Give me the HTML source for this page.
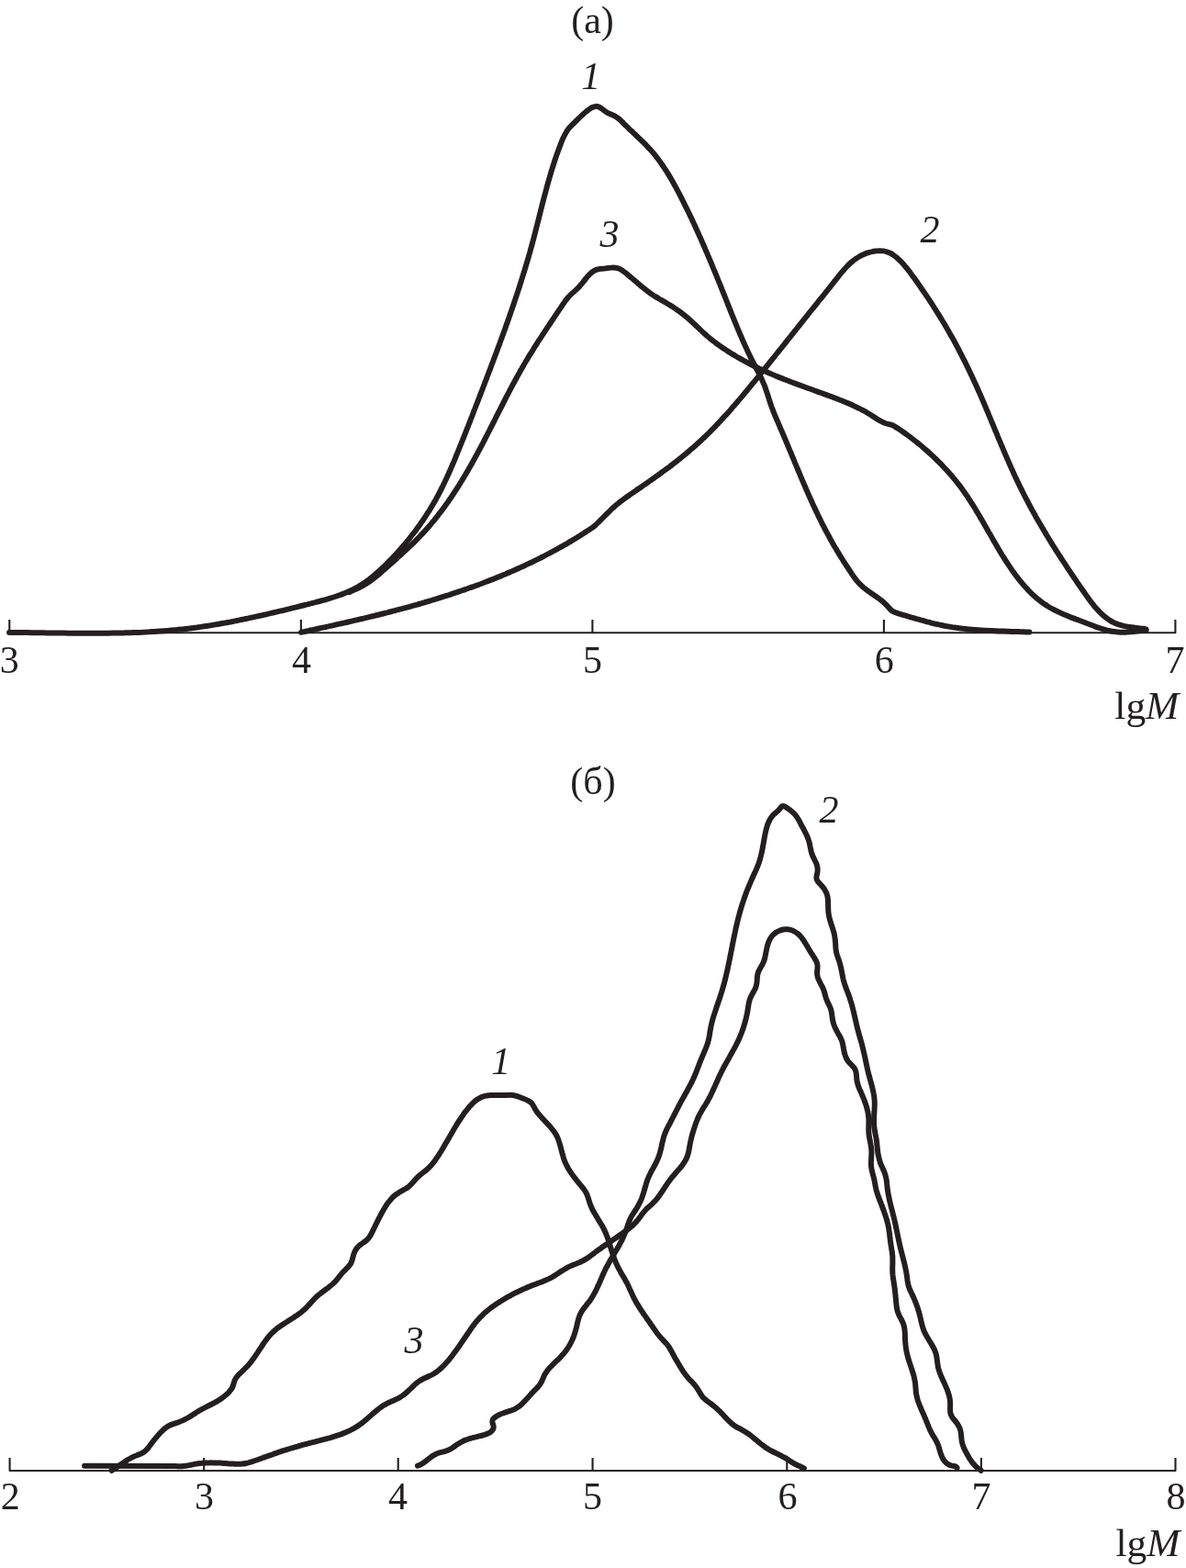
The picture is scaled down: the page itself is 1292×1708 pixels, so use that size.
<!DOCTYPE html>
<html><head><meta charset="utf-8"><title>Figure</title>
<style>
html,body{margin:0;padding:0;background:#fff}
svg{display:block}
text{font-family:"Liberation Serif",serif;font-size:42px;fill:#231f20}
.i{font-style:italic}
</style></head><body>
<svg width="1292" height="1708" viewBox="0 0 1292 1708">
<rect width="1292" height="1708" fill="#fff"/>
<g fill="none" stroke="#231f20" stroke-width="2.1" stroke-linejoin="round">
<path d="M10.3,675.1V689.25H1280.4V675.1M327.9,689.25V675.1M645.4,689.25V675.1M962.9,689.25V675.1"/>
<path d="M10.6,1587.9V1602.0H1280.5V1587.9M222.2,1602.0V1587.9M433.7,1602.0V1587.9M645.55,1602.0V1587.9M857.3,1602.0V1587.9M1068.9,1602.0V1587.9"/>
</g>
<g fill="none" stroke="#231f20" stroke-width="6.0" stroke-linecap="round" stroke-linejoin="round">
<path d="M10.1,688.9C11.4,688.9 12.8,688.9 14.1,688.9C15.5,688.9 16.8,689.0 18.1,689.0C19.5,689.0 20.8,689.0 22.2,689.0C23.5,689.0 24.8,689.0 26.2,689.1C27.5,689.1 28.8,689.1 30.2,689.1C31.5,689.1 32.9,689.1 34.2,689.2C35.5,689.2 36.9,689.2 38.2,689.2C39.6,689.2 40.9,689.3 42.2,689.3C43.6,689.3 44.9,689.3 46.3,689.3C47.6,689.3 48.9,689.4 50.3,689.4C51.6,689.4 52.9,689.4 54.3,689.4C55.6,689.5 57.0,689.5 58.3,689.5C59.6,689.5 61.0,689.5 62.3,689.5C63.7,689.6 65.0,689.6 66.3,689.6C67.7,689.6 69.0,689.6 70.3,689.6C71.7,689.7 73.0,689.7 74.4,689.7C75.7,689.7 77.0,689.7 78.4,689.7C79.7,689.7 81.1,689.7 82.4,689.8C83.7,689.8 85.1,689.8 86.4,689.8C87.7,689.8 89.1,689.8 90.4,689.8C91.8,689.8 93.1,689.8 94.4,689.8C95.8,689.8 97.1,689.8 98.4,689.8C99.8,689.8 101.1,689.8 102.5,689.8C103.8,689.8 105.1,689.8 106.5,689.8C107.8,689.8 109.1,689.8 110.5,689.8C111.8,689.8 113.2,689.8 114.5,689.8C115.8,689.7 117.2,689.7 118.5,689.7C119.8,689.7 121.2,689.7 122.5,689.6C123.8,689.6 125.2,689.6 126.5,689.6C127.9,689.6 129.2,689.5 130.5,689.5C131.9,689.5 133.2,689.4 134.5,689.4C135.9,689.4 137.2,689.3 138.5,689.3C139.9,689.2 141.2,689.2 142.5,689.2C143.9,689.1 145.2,689.1 146.5,689.0C147.9,689.0 149.2,688.9 150.6,688.9C151.9,688.8 153.2,688.7 154.6,688.7C155.9,688.6 157.2,688.5 158.6,688.5C159.9,688.4 161.2,688.3 162.6,688.3C163.9,688.2 165.2,688.1 166.6,688.0C167.9,687.9 169.2,687.9 170.6,687.8C171.9,687.7 173.2,687.6 174.6,687.5C175.9,687.4 177.2,687.3 178.6,687.2C179.9,687.1 181.2,687.0 182.6,686.9C183.9,686.8 185.2,686.7 186.5,686.5C187.9,686.4 189.2,686.3 190.5,686.2C191.9,686.1 193.2,685.9 194.5,685.8C195.9,685.7 197.2,685.5 198.5,685.4C199.9,685.2 201.2,685.1 202.5,684.9C203.8,684.8 205.2,684.6 206.5,684.5C207.8,684.3 209.2,684.1 210.5,684.0C211.8,683.8 213.2,683.6 214.5,683.5C215.8,683.3 217.1,683.1 218.5,682.9C219.8,682.7 221.1,682.5 222.5,682.3C223.8,682.1 225.1,681.9 226.4,681.7C227.8,681.5 229.1,681.3 230.4,681.1C231.7,680.9 233.1,680.7 234.4,680.4C235.7,680.2 237.0,680.0 238.4,679.7C239.7,679.5 241.0,679.3 242.3,679.0C243.7,678.8 245.0,678.6 246.3,678.3C247.6,678.1 248.9,677.8 250.3,677.6C251.6,677.3 252.9,677.1 254.2,676.8C255.5,676.5 256.9,676.3 258.2,676.0C259.5,675.7 260.8,675.5 262.1,675.2C263.4,674.9 264.7,674.7 266.0,674.4C267.4,674.1 268.7,673.9 270.0,673.6C271.3,673.3 272.6,673.0 273.9,672.7C275.2,672.5 276.5,672.2 277.8,671.9C279.1,671.6 280.4,671.3 281.7,671.0C283.0,670.7 284.3,670.4 285.6,670.2C286.9,669.9 288.2,669.6 289.5,669.3C290.8,669.0 292.1,668.7 293.4,668.4C294.7,668.1 295.9,667.8 297.2,667.5C298.5,667.2 299.8,666.9 301.1,666.6C302.4,666.3 303.7,666.0 305.0,665.7C306.3,665.4 307.6,665.1 308.9,664.8C310.2,664.4 311.4,664.1 312.7,663.8C314.0,663.5 315.3,663.2 316.6,662.9C317.9,662.6 319.2,662.2 320.5,661.9C321.8,661.6 323.1,661.3 324.4,661.0C325.7,660.6 327.0,660.3 328.3,660.0C329.6,659.7 330.9,659.3 332.2,659.0C333.5,658.7 334.8,658.4 336.1,658.0C337.4,657.7 338.7,657.4 340.0,657.0C341.3,656.7 342.6,656.4 343.9,656.0C345.2,655.7 346.5,655.3 347.8,655.0C349.1,654.7 350.5,654.3 351.8,653.9C353.1,653.6 354.4,653.2 355.7,652.8C357.0,652.5 358.3,652.1 359.6,651.7C360.9,651.3 362.2,650.9 363.4,650.5C364.7,650.1 366.0,649.7 367.3,649.2C368.6,648.8 369.8,648.3 371.1,647.9C372.4,647.4 373.6,646.9 374.9,646.4C376.1,645.9 377.3,645.4 378.6,644.9C379.8,644.4 381.0,643.8 382.2,643.3C383.4,642.7 384.6,642.1 385.8,641.5C387.0,640.9 388.2,640.3 389.3,639.6C390.5,638.9 391.6,638.3 392.7,637.6C393.9,636.9 395.0,636.2 396.1,635.4C397.2,634.7 398.3,633.9 399.4,633.1C400.5,632.3 401.5,631.6 402.6,630.7C403.6,629.9 404.7,629.1 405.7,628.2C406.8,627.4 407.8,626.5 408.8,625.7C409.8,624.8 410.8,623.9 411.8,623.0C412.9,622.1 413.8,621.2 414.8,620.3C415.8,619.4 416.8,618.4 417.8,617.5C418.7,616.6 419.7,615.6 420.7,614.7C421.6,613.8 422.6,612.8 423.5,611.8C424.5,610.9 425.4,609.9 426.3,609.0C427.3,608.0 428.2,607.0 429.1,606.0C430.0,605.1 431.0,604.1 431.9,603.1C432.8,602.1 433.7,601.1 434.6,600.1C435.5,599.1 436.3,598.1 437.2,597.1C438.1,596.1 439.0,595.1 439.9,594.1C440.7,593.0 441.6,592.0 442.4,591.0C443.3,590.0 444.1,588.9 445.0,587.9C445.8,586.8 446.7,585.8 447.5,584.7C448.3,583.7 449.1,582.6 450.0,581.6C450.8,580.5 451.6,579.5 452.4,578.4C453.2,577.3 454.0,576.2 454.8,575.2C455.6,574.1 456.3,573.0 457.1,571.9C457.9,570.8 458.6,569.7 459.4,568.6C460.2,567.5 460.9,566.4 461.7,565.3C462.4,564.2 463.1,563.1 463.9,562.0C464.6,560.9 465.3,559.8 466.0,558.6C466.8,557.5 467.5,556.4 468.2,555.2C468.9,554.1 469.6,553.0 470.2,551.8C470.9,550.7 471.6,549.5 472.3,548.4C472.9,547.2 473.6,546.1 474.3,544.9C474.9,543.7 475.6,542.6 476.2,541.4C476.8,540.2 477.5,539.1 478.1,537.9C478.7,536.7 479.3,535.5 479.9,534.3C480.5,533.1 481.1,531.9 481.7,530.8C482.3,529.6 482.9,528.4 483.5,527.2C484.1,526.0 484.7,524.8 485.2,523.5C485.8,522.3 486.4,521.1 486.9,519.9C487.5,518.7 488.0,517.5 488.6,516.3C489.1,515.0 489.7,513.8 490.2,512.6C490.8,511.4 491.3,510.1 491.8,508.9C492.4,507.7 492.9,506.5 493.4,505.2C493.9,504.0 494.5,502.8 495.0,501.5C495.5,500.3 496.0,499.1 496.5,497.8C497.0,496.6 497.5,495.3 498.0,494.1C498.5,492.9 499.0,491.6 499.5,490.4C500.0,489.1 500.5,487.9 501.0,486.6C501.5,485.4 502.0,484.2 502.5,482.9C503.0,481.7 503.5,480.4 504.0,479.2C504.5,477.9 505.0,476.7 505.5,475.5C506.0,474.2 506.5,473.0 507.0,471.7C507.5,470.5 508.0,469.2 508.4,468.0C508.9,466.7 509.4,465.5 509.9,464.3C510.4,463.0 510.9,461.8 511.4,460.5C511.9,459.3 512.3,458.0 512.8,456.8C513.3,455.6 513.8,454.3 514.3,453.1C514.8,451.8 515.3,450.6 515.7,449.3C516.2,448.1 516.7,446.8 517.2,445.6C517.7,444.3 518.2,443.1 518.6,441.9C519.1,440.6 519.6,439.4 520.1,438.1C520.6,436.9 521.1,435.6 521.5,434.4C522.0,433.1 522.5,431.9 523.0,430.6C523.5,429.4 523.9,428.2 524.4,426.9C524.9,425.7 525.4,424.4 525.9,423.2C526.3,421.9 526.8,420.7 527.3,419.4C527.8,418.2 528.2,416.9 528.7,415.7C529.2,414.4 529.7,413.2 530.2,411.9C530.6,410.7 531.1,409.4 531.6,408.2C532.1,406.9 532.5,405.7 533.0,404.4C533.5,403.2 534.0,401.9 534.4,400.7C534.9,399.4 535.4,398.2 535.8,396.9C536.3,395.7 536.8,394.4 537.3,393.2C537.7,391.9 538.2,390.7 538.7,389.4C539.1,388.2 539.6,386.9 540.1,385.7C540.5,384.4 541.0,383.2 541.5,381.9C541.9,380.7 542.4,379.4 542.9,378.2C543.3,376.9 543.8,375.6 544.3,374.4C544.7,373.1 545.2,371.9 545.6,370.6C546.1,369.4 546.6,368.1 547.0,366.9C547.5,365.6 547.9,364.3 548.4,363.1C548.8,361.8 549.3,360.6 549.8,359.3C550.2,358.0 550.7,356.8 551.1,355.5C551.6,354.3 552.0,353.0 552.5,351.7C552.9,350.5 553.3,349.2 553.8,348.0C554.2,346.7 554.7,345.4 555.1,344.2C555.6,342.9 556.0,341.6 556.4,340.4C556.9,339.1 557.3,337.9 557.7,336.6C558.2,335.3 558.6,334.1 559.0,332.8C559.5,331.5 559.9,330.3 560.3,329.0C560.8,327.7 561.2,326.5 561.6,325.2C562.0,323.9 562.5,322.6 562.9,321.4C563.3,320.1 563.7,318.8 564.1,317.6C564.5,316.3 565.0,315.0 565.4,313.8C565.8,312.5 566.2,311.2 566.6,309.9C567.0,308.7 567.4,307.4 567.8,306.1C568.2,304.8 568.6,303.6 569.0,302.3C569.4,301.0 569.8,299.7 570.2,298.4C570.6,297.2 571.0,295.9 571.4,294.6C571.8,293.3 572.2,292.0 572.6,290.8C572.9,289.5 573.3,288.2 573.7,286.9C574.1,285.6 574.5,284.4 574.8,283.1C575.2,281.8 575.6,280.5 576.0,279.2C576.3,277.9 576.7,276.6 577.1,275.4C577.4,274.1 577.8,272.8 578.1,271.5C578.5,270.2 578.9,268.9 579.2,267.6C579.6,266.3 579.9,265.0 580.3,263.7C580.6,262.4 581.0,261.1 581.3,259.9C581.6,258.6 582.0,257.3 582.3,256.0C582.7,254.7 583.0,253.4 583.3,252.1C583.7,250.8 584.0,249.5 584.3,248.2C584.7,246.9 585.0,245.6 585.3,244.3C585.6,243.0 586.0,241.7 586.3,240.4C586.6,239.1 587.0,237.8 587.3,236.5C587.6,235.2 587.9,233.9 588.3,232.6C588.6,231.3 588.9,230.0 589.2,228.7C589.6,227.4 589.9,226.1 590.2,224.8C590.6,223.5 590.9,222.2 591.2,220.9C591.6,219.6 591.9,218.3 592.2,217.0C592.6,215.7 592.9,214.4 593.2,213.1C593.6,211.8 593.9,210.6 594.3,209.3C594.6,208.0 594.9,206.7 595.3,205.4C595.6,204.1 596.0,202.8 596.4,201.5C596.7,200.2 597.1,198.9 597.4,197.6C597.8,196.4 598.2,195.1 598.5,193.8C598.9,192.5 599.3,191.2 599.7,189.9C600.0,188.7 600.4,187.4 600.8,186.1C601.2,184.8 601.6,183.6 602.0,182.3C602.4,181.0 602.8,179.7 603.2,178.5C603.6,177.2 604.0,175.9 604.4,174.7C604.9,173.4 605.3,172.1 605.7,170.9C606.1,169.6 606.6,168.3 607.0,167.1C607.5,165.8 607.9,164.6 608.4,163.3C608.8,162.1 609.3,160.8 609.8,159.6C610.3,158.3 610.7,157.1 611.2,155.8C611.7,154.6 612.2,153.3 612.7,152.1C613.3,150.9 613.8,149.7 614.4,148.5C615.0,147.3 615.6,146.1 616.3,145.0C616.9,143.8 617.6,142.7 618.4,141.6C619.2,140.5 620.0,139.5 620.9,138.5C621.8,137.5 622.8,136.5 623.7,135.6C624.7,134.6 625.7,133.7 626.6,132.7C627.6,131.8 628.5,130.9 629.5,129.9C630.4,129.0 631.3,128.1 632.3,127.2C633.2,126.3 634.2,125.4 635.2,124.5C636.2,123.6 637.2,122.7 638.3,121.8C639.3,120.9 640.4,120.1 641.6,119.3C642.7,118.4 643.9,117.6 645.1,117.0C646.3,116.4 647.6,116.0 648.8,115.9C650.0,115.7 651.3,115.9 652.5,116.4C653.7,116.9 654.8,117.7 655.9,118.6C657.0,119.4 658.1,120.3 659.2,121.1C660.2,121.9 661.4,122.6 662.6,123.2C663.8,123.8 665.1,124.3 666.3,124.8C667.5,125.3 668.7,125.9 669.9,126.5C671.0,127.2 672.1,127.9 673.2,128.7C674.2,129.5 675.2,130.4 676.2,131.3C677.2,132.2 678.1,133.2 679.1,134.2C680.1,135.1 681.0,136.1 682.0,137.0C683.0,138.0 683.9,138.9 684.9,139.9C685.9,140.8 686.9,141.7 687.9,142.7C688.8,143.6 689.8,144.5 690.8,145.4C691.8,146.4 692.7,147.3 693.7,148.2C694.7,149.1 695.7,150.0 696.6,151.0C697.6,151.9 698.6,152.8 699.5,153.8C700.5,154.7 701.4,155.6 702.3,156.6C703.3,157.5 704.2,158.5 705.1,159.4C706.0,160.4 707.0,161.4 707.8,162.3C708.7,163.3 709.6,164.3 710.5,165.3C711.4,166.3 712.2,167.3 713.1,168.3C713.9,169.4 714.7,170.4 715.5,171.5C716.4,172.5 717.2,173.6 717.9,174.6C718.7,175.7 719.5,176.8 720.3,177.9C721.0,179.0 721.8,180.1 722.5,181.2C723.3,182.3 724.0,183.4 724.7,184.5C725.5,185.6 726.2,186.8 726.9,187.9C727.6,189.0 728.3,190.2 729.0,191.3C729.7,192.5 730.3,193.6 731.0,194.8C731.7,196.0 732.4,197.1 733.0,198.3C733.7,199.5 734.3,200.7 735.0,201.8C735.6,203.0 736.3,204.2 736.9,205.4C737.5,206.6 738.2,207.8 738.8,208.9C739.4,210.1 740.0,211.3 740.7,212.5C741.3,213.7 741.9,214.9 742.5,216.1C743.1,217.3 743.7,218.5 744.3,219.7C744.9,220.9 745.5,222.1 746.1,223.3C746.7,224.5 747.3,225.7 747.9,226.9C748.5,228.1 749.1,229.3 749.7,230.5C750.3,231.7 750.8,232.9 751.4,234.1C752.0,235.3 752.6,236.5 753.2,237.7C753.7,239.0 754.3,240.2 754.9,241.4C755.4,242.6 756.0,243.8 756.6,245.0C757.1,246.2 757.7,247.4 758.2,248.7C758.8,249.9 759.3,251.1 759.9,252.3C760.4,253.5 761.0,254.7 761.5,256.0C762.1,257.2 762.6,258.4 763.2,259.6C763.7,260.8 764.3,262.1 764.8,263.3C765.3,264.5 765.9,265.7 766.4,267.0C766.9,268.2 767.5,269.4 768.0,270.6C768.5,271.9 769.0,273.1 769.6,274.3C770.1,275.5 770.6,276.8 771.1,278.0C771.7,279.2 772.2,280.5 772.7,281.7C773.2,282.9 773.7,284.2 774.3,285.4C774.8,286.6 775.3,287.8 775.8,289.1C776.3,290.3 776.8,291.5 777.3,292.8C777.8,294.0 778.4,295.3 778.9,296.5C779.4,297.7 779.9,299.0 780.4,300.2C780.9,301.4 781.4,302.7 781.9,303.9C782.4,305.1 782.9,306.4 783.4,307.6C783.9,308.9 784.4,310.1 784.9,311.3C785.4,312.6 785.9,313.8 786.4,315.1C786.9,316.3 787.4,317.6 787.9,318.8C788.4,320.0 788.9,321.3 789.4,322.5C789.9,323.8 790.4,325.0 790.9,326.3C791.4,327.5 791.9,328.7 792.4,330.0C792.8,331.2 793.3,332.5 793.8,333.7C794.3,335.0 794.8,336.2 795.3,337.5C795.8,338.7 796.3,339.9 796.8,341.2C797.3,342.4 797.8,343.7 798.3,344.9C798.8,346.2 799.3,347.4 799.8,348.6C800.3,349.9 800.8,351.1 801.4,352.4C801.9,353.6 802.4,354.8 802.9,356.1C803.4,357.3 803.9,358.6 804.4,359.8C805.0,361.0 805.5,362.3 806.0,363.5C806.5,364.7 807.1,365.9 807.6,367.2C808.1,368.4 808.7,369.6 809.2,370.9C809.7,372.1 810.3,373.3 810.8,374.5C811.4,375.8 811.9,377.0 812.5,378.2C813.0,379.4 813.6,380.6 814.2,381.8C814.7,383.0 815.3,384.3 815.9,385.5C816.5,386.7 817.1,387.9 817.6,389.1C818.2,390.3 818.8,391.5 819.4,392.7C820.0,393.9 820.6,395.1 821.2,396.2C821.9,397.4 822.5,398.6 823.1,399.8C823.7,401.0 824.3,402.2 825.0,403.4C825.6,404.6 826.2,405.7 826.8,406.9C827.4,408.1 828.0,409.3 828.6,410.5C829.2,411.7 829.7,412.9 830.3,414.1C830.8,415.3 831.4,416.6 831.9,417.8C832.4,419.0 832.9,420.3 833.4,421.5C833.9,422.7 834.3,424.0 834.7,425.3C835.2,426.5 835.6,427.8 836.0,429.1C836.4,430.4 836.8,431.6 837.2,432.9C837.6,434.2 838.0,435.5 838.4,436.8C838.8,438.0 839.2,439.3 839.7,440.6C840.1,441.8 840.5,443.1 841.0,444.3C841.5,445.6 842.0,446.8 842.4,448.1C842.9,449.3 843.4,450.6 843.9,451.8C844.4,453.0 845.0,454.3 845.5,455.5C846.0,456.7 846.5,458.0 847.1,459.2C847.6,460.4 848.1,461.6 848.7,462.9C849.2,464.1 849.7,465.3 850.2,466.5C850.8,467.8 851.3,469.0 851.8,470.2C852.4,471.4 852.9,472.7 853.4,473.9C853.9,475.1 854.5,476.4 855.0,477.6C855.5,478.8 856.0,480.1 856.5,481.3C857.1,482.5 857.6,483.8 858.1,485.0C858.6,486.2 859.1,487.5 859.6,488.7C860.2,490.0 860.7,491.2 861.2,492.4C861.7,493.7 862.2,494.9 862.7,496.1C863.2,497.4 863.8,498.6 864.3,499.8C864.8,501.1 865.3,502.3 865.8,503.6C866.3,504.8 866.8,506.0 867.4,507.3C867.9,508.5 868.4,509.7 868.9,511.0C869.4,512.2 869.9,513.4 870.5,514.7C871.0,515.9 871.5,517.1 872.0,518.4C872.5,519.6 873.1,520.8 873.6,522.1C874.1,523.3 874.6,524.5 875.2,525.8C875.7,527.0 876.2,528.2 876.8,529.5C877.3,530.7 877.8,531.9 878.3,533.2C878.9,534.4 879.4,535.6 880.0,536.8C880.5,538.1 881.0,539.3 881.6,540.5C882.1,541.7 882.7,542.9 883.2,544.2C883.8,545.4 884.3,546.6 884.9,547.8C885.4,549.0 886.0,550.3 886.6,551.5C887.1,552.7 887.7,553.9 888.2,555.1C888.8,556.3 889.4,557.5 890.0,558.7C890.5,559.9 891.1,561.1 891.7,562.3C892.3,563.5 892.9,564.7 893.5,565.9C894.0,567.1 894.6,568.3 895.2,569.5C895.8,570.7 896.4,571.9 897.0,573.1C897.7,574.3 898.3,575.5 898.9,576.7C899.5,577.8 900.1,579.0 900.8,580.2C901.4,581.4 902.0,582.6 902.7,583.7C903.3,584.9 903.9,586.1 904.6,587.3C905.2,588.4 905.9,589.6 906.5,590.7C907.2,591.9 907.9,593.1 908.5,594.2C909.2,595.4 909.9,596.5 910.6,597.7C911.3,598.8 911.9,600.0 912.6,601.1C913.3,602.3 914.0,603.4 914.7,604.6C915.4,605.7 916.2,606.8 916.9,608.0C917.6,609.1 918.3,610.2 919.0,611.4C919.8,612.5 920.5,613.6 921.2,614.8C921.9,615.9 922.7,617.0 923.4,618.1C924.1,619.3 924.9,620.4 925.6,621.5C926.3,622.6 927.1,623.8 927.8,624.9C928.6,626.0 929.3,627.1 930.1,628.2C930.9,629.3 931.7,630.4 932.5,631.4C933.3,632.5 934.2,633.5 935.0,634.5C935.9,635.5 936.8,636.4 937.8,637.3C938.7,638.3 939.7,639.1 940.7,640.0C941.7,640.8 942.8,641.6 943.8,642.4C944.9,643.2 946.0,644.0 947.1,644.8C948.2,645.5 949.3,646.3 950.4,647.0C951.5,647.8 952.6,648.5 953.7,649.3C954.8,650.1 955.9,650.8 957.0,651.6C958.1,652.4 959.1,653.2 960.2,654.1C961.2,654.9 962.3,655.8 963.2,656.7C964.2,657.6 965.2,658.5 966.1,659.5C967.0,660.5 967.9,661.5 968.8,662.5C969.7,663.6 970.6,664.5 971.6,665.3C972.7,666.1 973.9,666.6 975.2,667.1C976.4,667.6 977.7,668.0 979.0,668.4C980.3,668.8 981.6,669.2 982.9,669.6C984.2,670.0 985.5,670.3 986.8,670.7C988.1,671.1 989.4,671.5 990.6,671.8C991.9,672.2 993.2,672.6 994.5,672.9C995.8,673.3 997.1,673.7 998.4,674.1C999.7,674.4 1000.9,674.8 1002.2,675.2C1003.5,675.5 1004.8,675.9 1006.1,676.2C1007.4,676.6 1008.7,677.0 1010.0,677.3C1011.2,677.6 1012.5,678.0 1013.8,678.3C1015.1,678.6 1016.4,679.0 1017.7,679.3C1019.0,679.6 1020.3,679.9 1021.6,680.2C1022.9,680.5 1024.2,680.8 1025.5,681.0C1026.8,681.3 1028.1,681.6 1029.4,681.8C1030.7,682.0 1032.0,682.3 1033.3,682.5C1034.7,682.7 1036.0,682.9 1037.3,683.2C1038.6,683.4 1039.9,683.6 1041.3,683.7C1042.6,683.9 1043.9,684.1 1045.2,684.3C1046.6,684.4 1047.9,684.6 1049.2,684.8C1050.5,684.9 1051.9,685.0 1053.2,685.2C1054.5,685.3 1055.9,685.4 1057.2,685.6C1058.5,685.7 1059.9,685.8 1061.2,685.9C1062.5,686.0 1063.9,686.1 1065.2,686.2C1066.6,686.3 1067.9,686.4 1069.2,686.5C1070.6,686.6 1071.9,686.7 1073.3,686.7C1074.6,686.8 1075.9,686.9 1077.3,687.0C1078.6,687.0 1080.0,687.1 1081.3,687.1C1082.6,687.2 1084.0,687.3 1085.3,687.3C1086.7,687.4 1088.0,687.4 1089.4,687.5C1090.7,687.5 1092.0,687.6 1093.4,687.6C1094.7,687.7 1096.1,687.7 1097.4,687.7C1098.7,687.8 1100.1,687.8 1101.4,687.9C1102.8,687.9 1104.1,687.9 1105.4,688.0C1106.8,688.0 1108.1,688.1 1109.4,688.1C1110.8,688.1 1112.1,688.2 1113.4,688.2C1114.8,688.3 1116.1,688.3 1117.4,688.4C1118.7,688.4 1120.1,688.5 1121.4,688.5"/>
<path d="M380.1,645.2C381.3,644.7 382.6,644.1 383.8,643.6C385.0,643.1 386.2,642.5 387.4,641.9C388.7,641.4 389.9,640.8 391.1,640.2C392.3,639.6 393.5,638.9 394.6,638.3C395.8,637.6 397.0,637.0 398.1,636.3C399.3,635.6 400.4,634.9 401.5,634.1C402.6,633.4 403.7,632.6 404.8,631.8C405.9,631.0 407.0,630.2 408.0,629.4C409.1,628.6 410.1,627.7 411.1,626.9C412.2,626.0 413.2,625.1 414.2,624.3C415.2,623.4 416.2,622.5 417.2,621.6C418.2,620.7 419.2,619.8 420.2,618.9C421.2,618.0 422.3,617.1 423.3,616.3C424.3,615.4 425.3,614.5 426.3,613.6C427.3,612.7 428.3,611.8 429.3,610.9C430.3,610.0 431.3,609.1 432.3,608.2C433.3,607.3 434.3,606.4 435.3,605.5C436.3,604.6 437.3,603.7 438.3,602.8C439.3,601.9 440.3,600.9 441.3,600.0C442.2,599.1 443.2,598.2 444.2,597.3C445.2,596.3 446.1,595.4 447.1,594.5C448.1,593.6 449.0,592.6 450.0,591.7C451.0,590.8 451.9,589.8 452.9,588.9C453.8,587.9 454.8,587.0 455.7,586.0C456.6,585.0 457.6,584.1 458.5,583.1C459.4,582.1 460.3,581.2 461.2,580.2C462.1,579.2 463.0,578.2 463.9,577.2C464.8,576.2 465.7,575.2 466.6,574.2C467.5,573.2 468.3,572.2 469.2,571.2C470.1,570.1 470.9,569.1 471.8,568.1C472.6,567.1 473.5,566.0 474.3,565.0C475.1,563.9 476.0,562.9 476.8,561.9C477.6,560.8 478.4,559.7 479.2,558.7C480.0,557.6 480.9,556.6 481.7,555.5C482.5,554.4 483.2,553.3 484.0,552.3C484.8,551.2 485.6,550.1 486.4,549.0C487.2,547.9 487.9,546.8 488.7,545.7C489.5,544.6 490.2,543.5 491.0,542.4C491.7,541.3 492.5,540.2 493.2,539.1C494.0,538.0 494.7,536.8 495.4,535.7C496.2,534.6 496.9,533.5 497.6,532.3C498.3,531.2 499.1,530.1 499.8,528.9C500.5,527.8 501.2,526.7 501.9,525.5C502.6,524.4 503.3,523.2 504.0,522.1C504.7,520.9 505.4,519.8 506.1,518.6C506.8,517.5 507.4,516.3 508.1,515.2C508.8,514.0 509.5,512.8 510.2,511.7C510.8,510.5 511.5,509.3 512.2,508.2C512.8,507.0 513.5,505.8 514.1,504.7C514.8,503.5 515.5,502.3 516.1,501.1C516.8,500.0 517.4,498.8 518.1,497.6C518.7,496.4 519.3,495.2 520.0,494.1C520.6,492.9 521.3,491.7 521.9,490.5C522.5,489.3 523.2,488.1 523.8,486.9C524.4,485.7 525.1,484.5 525.7,483.4C526.3,482.2 526.9,481.0 527.5,479.8C528.2,478.6 528.8,477.4 529.4,476.2C530.0,475.0 530.6,473.8 531.2,472.6C531.9,471.4 532.5,470.2 533.1,469.0C533.7,467.8 534.3,466.6 534.9,465.4C535.5,464.2 536.1,463.0 536.7,461.8C537.3,460.6 537.9,459.5 538.5,458.3C539.1,457.1 539.7,455.9 540.3,454.7C540.9,453.5 541.5,452.3 542.1,451.1C542.7,449.9 543.3,448.7 544.0,447.5C544.6,446.3 545.2,445.1 545.8,443.9C546.4,442.7 547.0,441.5 547.6,440.3C548.2,439.1 548.8,437.9 549.4,436.8C550.0,435.6 550.6,434.4 551.2,433.2C551.8,432.0 552.5,430.8 553.1,429.6C553.7,428.4 554.3,427.2 554.9,426.1C555.5,424.9 556.2,423.7 556.8,422.5C557.4,421.3 558.0,420.2 558.7,419.0C559.3,417.8 559.9,416.6 560.6,415.4C561.2,414.3 561.8,413.1 562.5,411.9C563.1,410.7 563.8,409.6 564.4,408.4C565.1,407.2 565.7,406.1 566.4,404.9C567.0,403.7 567.7,402.6 568.4,401.4C569.0,400.3 569.7,399.1 570.4,397.9C571.0,396.8 571.7,395.6 572.4,394.5C573.1,393.3 573.8,392.2 574.5,391.0C575.1,389.9 575.8,388.7 576.5,387.6C577.2,386.5 577.9,385.3 578.7,384.2C579.4,383.0 580.1,381.9 580.8,380.8C581.5,379.6 582.2,378.5 582.9,377.3C583.6,376.2 584.4,375.1 585.1,373.9C585.8,372.8 586.5,371.7 587.3,370.6C588.0,369.4 588.7,368.3 589.5,367.2C590.2,366.0 590.9,364.9 591.7,363.8C592.4,362.7 593.2,361.5 593.9,360.4C594.7,359.3 595.4,358.2 596.1,357.0C596.9,355.9 597.6,354.8 598.4,353.7C599.1,352.5 599.9,351.4 600.6,350.3C601.4,349.2 602.1,348.0 602.9,346.9C603.7,345.8 604.4,344.7 605.2,343.5C605.9,342.4 606.7,341.3 607.4,340.2C608.2,339.0 608.9,337.9 609.7,336.8C610.5,335.7 611.2,334.5 612.0,333.4C612.7,332.3 613.5,331.2 614.3,330.1C615.0,329.0 615.8,327.9 616.6,326.8C617.4,325.8 618.2,324.8 619.1,323.8C619.9,322.8 620.8,321.9 621.7,321.0C622.6,320.2 623.5,319.3 624.5,318.5C625.4,317.7 626.3,316.8 627.3,316.0C628.2,315.1 629.2,314.2 630.1,313.3C631.0,312.3 631.9,311.3 632.8,310.2C633.7,309.1 634.6,308.0 635.5,306.9C636.4,305.7 637.3,304.6 638.2,303.5C639.1,302.3 640.1,301.2 641.0,300.2C642.0,299.2 643.0,298.2 644.0,297.3C645.0,296.4 646.1,295.6 647.2,295.0C648.4,294.3 649.6,293.8 650.8,293.5C652.1,293.1 653.4,292.9 654.7,292.7C656.0,292.6 657.4,292.5 658.8,292.4C660.1,292.2 661.5,292.1 662.8,291.9C664.2,291.7 665.5,291.5 666.9,291.5C668.2,291.4 669.5,291.5 670.9,291.7C672.2,291.9 673.4,292.3 674.7,292.8C675.9,293.3 677.0,294.0 678.2,294.8C679.3,295.6 680.4,296.4 681.4,297.2C682.5,298.1 683.6,298.9 684.6,299.8C685.6,300.6 686.6,301.5 687.6,302.4C688.7,303.2 689.7,304.1 690.7,305.0C691.7,305.9 692.7,306.7 693.7,307.6C694.7,308.5 695.7,309.4 696.8,310.2C697.8,311.1 698.8,312.0 699.9,312.8C700.9,313.7 701.9,314.5 703.0,315.3C704.1,316.2 705.1,317.0 706.2,317.8C707.3,318.6 708.4,319.3 709.5,320.1C710.6,320.9 711.7,321.6 712.8,322.3C714.0,323.0 715.1,323.7 716.3,324.4C717.4,325.1 718.6,325.8 719.7,326.5C720.9,327.1 722.1,327.8 723.2,328.5C724.4,329.1 725.6,329.8 726.7,330.5C727.9,331.2 729.0,331.9 730.2,332.6C731.3,333.3 732.5,334.0 733.6,334.7C734.7,335.4 735.8,336.2 736.9,337.0C738.0,337.7 739.1,338.5 740.2,339.3C741.3,340.1 742.3,340.9 743.4,341.7C744.5,342.5 745.5,343.4 746.5,344.2C747.6,345.1 748.6,345.9 749.6,346.8C750.6,347.7 751.6,348.6 752.6,349.5C753.6,350.4 754.6,351.3 755.6,352.2C756.6,353.1 757.5,354.1 758.5,355.0C759.5,355.9 760.5,356.8 761.4,357.8C762.4,358.7 763.4,359.6 764.3,360.5C765.3,361.5 766.3,362.4 767.3,363.3C768.3,364.2 769.3,365.1 770.3,366.0C771.3,366.8 772.4,367.7 773.4,368.6C774.4,369.4 775.5,370.2 776.5,371.1C777.6,371.9 778.7,372.7 779.7,373.5C780.8,374.3 781.9,375.1 783.0,375.9C784.1,376.7 785.2,377.4 786.3,378.2C787.4,379.0 788.5,379.7 789.7,380.4C790.8,381.2 791.9,381.9 793.0,382.6C794.2,383.4 795.3,384.1 796.4,384.8C797.6,385.5 798.7,386.2 799.9,386.9C801.0,387.6 802.2,388.3 803.3,389.0C804.5,389.6 805.6,390.3 806.8,391.0C808.0,391.6 809.1,392.3 810.3,392.9C811.5,393.6 812.7,394.2 813.9,394.8C815.0,395.5 816.2,396.1 817.4,396.7C818.6,397.3 819.8,397.9 821.0,398.5C822.2,399.1 823.4,399.7 824.6,400.3C825.8,400.9 827.0,401.4 828.2,402.0C829.4,402.6 830.7,403.1 831.9,403.7C833.1,404.3 834.3,404.8 835.5,405.3C836.8,405.9 838.0,406.4 839.2,406.9C840.5,407.5 841.7,408.0 842.9,408.5C844.2,409.0 845.4,409.6 846.6,410.1C847.9,410.6 849.1,411.1 850.4,411.6C851.6,412.1 852.9,412.6 854.1,413.1C855.4,413.6 856.6,414.0 857.9,414.5C859.1,415.0 860.4,415.5 861.6,416.0C862.9,416.5 864.1,416.9 865.4,417.4C866.7,417.9 867.9,418.3 869.2,418.8C870.4,419.3 871.7,419.7 873.0,420.2C874.2,420.7 875.5,421.1 876.7,421.6C878.0,422.0 879.3,422.5 880.5,423.0C881.8,423.4 883.1,423.9 884.3,424.3C885.6,424.8 886.8,425.2 888.1,425.7C889.4,426.2 890.6,426.6 891.9,427.1C893.2,427.5 894.4,428.0 895.7,428.4C897.0,428.9 898.2,429.4 899.5,429.8C900.7,430.3 902.0,430.7 903.3,431.2C904.5,431.7 905.8,432.1 907.0,432.6C908.3,433.1 909.5,433.5 910.8,434.0C912.0,434.5 913.3,435.0 914.5,435.5C915.8,435.9 917.0,436.4 918.3,436.9C919.5,437.4 920.8,437.9 922.0,438.5C923.2,439.0 924.4,439.5 925.7,440.0C926.9,440.6 928.1,441.1 929.3,441.7C930.5,442.2 931.7,442.8 932.9,443.4C934.1,443.9 935.3,444.5 936.5,445.1C937.7,445.7 938.9,446.4 940.1,447.0C941.3,447.6 942.4,448.3 943.6,448.9C944.8,449.6 945.9,450.3 947.1,451.0C948.2,451.7 949.3,452.4 950.5,453.1C951.6,453.8 952.7,454.6 953.8,455.3C955.0,456.0 956.1,456.8 957.3,457.5C958.4,458.1 959.6,458.8 960.8,459.4C961.9,460.0 963.2,460.5 964.4,461.0C965.7,461.4 967.0,461.8 968.3,462.1C969.6,462.4 971.0,462.7 972.2,463.2C973.4,463.9 974.6,464.5 975.7,465.2C976.9,465.9 978.1,466.7 979.2,467.4C980.3,468.2 981.5,468.9 982.6,469.7C983.7,470.5 984.8,471.2 985.9,472.0C987.0,472.8 988.1,473.6 989.2,474.4C990.3,475.2 991.4,476.0 992.5,476.9C993.6,477.7 994.6,478.5 995.7,479.4C996.8,480.2 997.8,481.0 998.9,481.9C1000.0,482.8 1001.0,483.6 1002.1,484.5C1003.1,485.3 1004.2,486.2 1005.2,487.1C1006.3,488.0 1007.3,488.9 1008.3,489.8C1009.3,490.7 1010.4,491.6 1011.4,492.5C1012.4,493.4 1013.4,494.3 1014.4,495.2C1015.4,496.2 1016.4,497.1 1017.4,498.0C1018.4,499.0 1019.4,499.9 1020.4,500.9C1021.4,501.8 1022.3,502.8 1023.3,503.8C1024.3,504.7 1025.2,505.7 1026.2,506.7C1027.1,507.7 1028.1,508.7 1029.0,509.7C1029.9,510.7 1030.8,511.7 1031.8,512.7C1032.7,513.7 1033.6,514.7 1034.5,515.7C1035.4,516.7 1036.3,517.8 1037.2,518.8C1038.0,519.8 1038.9,520.9 1039.8,521.9C1040.7,523.0 1041.5,524.1 1042.3,525.1C1043.2,526.2 1044.0,527.3 1044.9,528.3C1045.7,529.4 1046.5,530.5 1047.3,531.6C1048.1,532.7 1048.9,533.8 1049.7,534.9C1050.5,536.0 1051.2,537.1 1052.0,538.2C1052.8,539.3 1053.5,540.4 1054.3,541.6C1055.0,542.7 1055.8,543.8 1056.5,545.0C1057.3,546.1 1058.0,547.2 1058.7,548.4C1059.4,549.5 1060.2,550.7 1060.9,551.8C1061.6,553.0 1062.3,554.1 1063.0,555.3C1063.7,556.4 1064.4,557.6 1065.1,558.8C1065.8,559.9 1066.5,561.1 1067.2,562.3C1067.8,563.5 1068.5,564.6 1069.2,565.8C1069.9,567.0 1070.6,568.2 1071.3,569.3C1071.9,570.5 1072.6,571.7 1073.3,572.9C1074.0,574.1 1074.6,575.2 1075.3,576.4C1076.0,577.6 1076.7,578.8 1077.3,580.0C1078.0,581.1 1078.7,582.3 1079.4,583.5C1080.0,584.7 1080.7,585.9 1081.4,587.1C1082.1,588.2 1082.7,589.4 1083.4,590.6C1084.1,591.8 1084.8,593.0 1085.5,594.1C1086.2,595.3 1086.9,596.5 1087.6,597.7C1088.3,598.9 1089.0,600.0 1089.7,601.2C1090.4,602.4 1091.1,603.5 1091.8,604.7C1092.5,605.9 1093.3,607.0 1094.0,608.2C1094.7,609.3 1095.5,610.5 1096.2,611.6C1096.9,612.8 1097.7,613.9 1098.5,615.1C1099.2,616.2 1100.0,617.4 1100.8,618.5C1101.5,619.6 1102.3,620.8 1103.1,621.9C1103.9,623.0 1104.7,624.1 1105.5,625.2C1106.3,626.3 1107.2,627.4 1108.0,628.5C1108.8,629.6 1109.7,630.7 1110.5,631.8C1111.4,632.9 1112.2,633.9 1113.1,635.0C1114.0,636.0 1114.9,637.1 1115.8,638.1C1116.7,639.1 1117.6,640.1 1118.5,641.1C1119.4,642.1 1120.4,643.1 1121.3,644.1C1122.3,645.0 1123.2,646.0 1124.2,646.9C1125.2,647.8 1126.2,648.8 1127.2,649.7C1128.2,650.6 1129.2,651.4 1130.2,652.3C1131.2,653.1 1132.3,654.0 1133.4,654.8C1134.4,655.6 1135.5,656.4 1136.6,657.2C1137.7,657.9 1138.8,658.7 1139.9,659.4C1141.0,660.1 1142.2,660.8 1143.3,661.5C1144.5,662.2 1145.6,662.8 1146.8,663.5C1148.0,664.1 1149.2,664.7 1150.4,665.3C1151.6,665.9 1152.8,666.5 1154.1,667.1C1155.3,667.6 1156.5,668.2 1157.8,668.7C1159.0,669.3 1160.3,669.8 1161.6,670.3C1162.8,670.9 1164.1,671.4 1165.4,671.9C1166.6,672.4 1167.9,672.9 1169.2,673.4C1170.5,673.9 1171.8,674.4 1173.1,674.8C1174.4,675.3 1175.6,675.8 1176.9,676.3C1178.2,676.8 1179.5,677.3 1180.8,677.8C1182.1,678.3 1183.4,678.8 1184.7,679.3C1186.0,679.8 1187.3,680.3 1188.6,680.8C1189.9,681.3 1191.2,681.8 1192.4,682.2C1193.7,682.7 1195.0,683.2 1196.3,683.6C1197.6,684.0 1198.9,684.5 1200.2,684.9C1201.5,685.3 1202.8,685.7 1204.2,686.0C1205.5,686.4 1206.8,686.7 1208.1,687.0C1209.4,687.3 1210.7,687.5 1212.1,687.8C1213.4,688.0 1214.7,688.2 1216.0,688.3C1217.4,688.5 1218.7,688.6 1220.1,688.7C1221.4,688.7 1222.8,688.7 1224.1,688.7C1225.5,688.7 1226.9,688.6 1228.2,688.5C1229.6,688.5 1231.0,688.3 1232.3,688.2C1233.7,688.1 1235.1,687.9 1236.4,687.8C1237.8,687.6 1239.1,687.5 1240.5,687.3C1241.9,687.2 1243.2,687.0 1244.6,686.9C1245.9,686.8 1247.3,686.7 1248.6,686.6"/>
<path d="M327.9,688.8C329.2,688.5 330.5,688.2 331.9,688.0C333.2,687.7 334.5,687.4 335.8,687.1C337.1,686.8 338.4,686.5 339.8,686.3C341.1,686.0 342.4,685.7 343.7,685.4C345.0,685.1 346.4,684.8 347.7,684.5C349.0,684.3 350.3,684.0 351.6,683.7C353.0,683.4 354.3,683.1 355.6,682.8C356.9,682.5 358.2,682.2 359.6,681.9C360.9,681.7 362.2,681.4 363.5,681.1C364.9,680.8 366.2,680.5 367.5,680.2C368.8,679.9 370.1,679.6 371.5,679.3C372.8,679.0 374.1,678.7 375.4,678.4C376.7,678.1 378.1,677.8 379.4,677.5C380.7,677.2 382.0,676.9 383.3,676.6C384.7,676.3 386.0,676.0 387.3,675.7C388.6,675.4 389.9,675.1 391.3,674.7C392.6,674.4 393.9,674.1 395.2,673.8C396.5,673.5 397.9,673.2 399.2,672.9C400.5,672.6 401.8,672.2 403.1,671.9C404.5,671.6 405.8,671.3 407.1,671.0C408.4,670.6 409.7,670.3 411.1,670.0C412.4,669.7 413.7,669.3 415.0,669.0C416.3,668.7 417.6,668.4 419.0,668.0C420.3,667.7 421.6,667.4 422.9,667.0C424.2,666.7 425.5,666.3 426.8,666.0C428.2,665.7 429.5,665.3 430.8,665.0C432.1,664.6 433.4,664.3 434.7,663.9C436.0,663.6 437.3,663.3 438.7,662.9C440.0,662.5 441.3,662.2 442.6,661.8C443.9,661.5 445.2,661.1 446.5,660.8C447.8,660.4 449.1,660.0 450.4,659.7C451.7,659.3 453.0,658.9 454.3,658.6C455.6,658.2 457.0,657.8 458.3,657.5C459.6,657.1 460.9,656.7 462.2,656.3C463.5,655.9 464.8,655.6 466.1,655.2C467.4,654.8 468.7,654.4 470.0,654.0C471.3,653.6 472.6,653.2 473.9,652.8C475.2,652.5 476.4,652.1 477.7,651.7C479.0,651.3 480.3,650.9 481.6,650.4C482.9,650.0 484.2,649.6 485.5,649.2C486.8,648.8 488.1,648.4 489.4,648.0C490.7,647.6 491.9,647.1 493.2,646.7C494.5,646.3 495.8,645.9 497.1,645.4C498.4,645.0 499.7,644.6 500.9,644.1C502.2,643.7 503.5,643.3 504.8,642.8C506.1,642.4 507.3,641.9 508.6,641.5C509.9,641.1 511.2,640.6 512.4,640.1C513.7,639.7 515.0,639.2 516.3,638.8C517.5,638.3 518.8,637.8 520.1,637.4C521.3,636.9 522.6,636.4 523.9,636.0C525.1,635.5 526.4,635.0 527.7,634.5C528.9,634.1 530.2,633.6 531.4,633.1C532.7,632.6 534.0,632.1 535.2,631.6C536.5,631.1 537.7,630.6 539.0,630.1C540.2,629.6 541.5,629.1 542.7,628.6C544.0,628.1 545.2,627.6 546.5,627.1C547.7,626.5 549.0,626.0 550.2,625.5C551.5,625.0 552.7,624.4 554.0,623.9C555.2,623.4 556.4,622.8 557.7,622.3C558.9,621.8 560.2,621.2 561.4,620.7C562.6,620.1 563.9,619.6 565.1,619.0C566.3,618.5 567.5,617.9 568.8,617.3C570.0,616.8 571.2,616.2 572.5,615.6C573.7,615.1 574.9,614.5 576.1,613.9C577.3,613.3 578.6,612.8 579.8,612.2C581.0,611.6 582.2,611.0 583.4,610.4C584.6,609.8 585.8,609.2 587.0,608.6C588.2,608.0 589.5,607.4 590.7,606.8C591.9,606.2 593.1,605.5 594.3,604.9C595.5,604.3 596.7,603.7 597.9,603.0C599.0,602.4 600.2,601.8 601.4,601.1C602.6,600.5 603.8,599.8 605.0,599.2C606.2,598.6 607.4,597.9 608.6,597.2C609.7,596.6 610.9,595.9 612.1,595.3C613.3,594.6 614.4,593.9 615.6,593.2C616.8,592.6 618.0,591.9 619.1,591.2C620.3,590.5 621.5,589.8 622.6,589.1C623.8,588.4 625.0,587.7 626.1,587.0C627.3,586.3 628.4,585.6 629.6,584.9C630.7,584.2 631.9,583.5 633.0,582.7C634.2,582.0 635.3,581.3 636.5,580.5C637.6,579.8 638.8,579.1 639.9,578.3C641.0,577.6 642.2,576.8 643.3,576.1C644.4,575.3 645.6,574.6 646.7,573.8C647.7,572.9 648.7,572.0 649.6,571.1C650.6,570.1 651.6,569.2 652.5,568.3C653.5,567.3 654.4,566.4 655.4,565.4C656.3,564.5 657.3,563.5 658.2,562.6C659.1,561.6 660.1,560.7 661.0,559.7C662.0,558.8 662.9,557.8 663.9,556.9C664.9,556.0 665.8,555.0 666.8,554.1C667.8,553.2 668.8,552.3 669.8,551.4C670.8,550.6 671.8,549.7 672.9,548.8C673.9,548.0 675.0,547.2 676.0,546.3C677.1,545.5 678.2,544.7 679.3,543.9C680.3,543.1 681.4,542.3 682.5,541.5C683.6,540.8 684.7,540.0 685.8,539.2C686.9,538.4 688.1,537.7 689.2,536.9C690.3,536.1 691.4,535.4 692.5,534.6C693.6,533.9 694.7,533.1 695.8,532.3C696.9,531.6 698.0,530.8 699.1,530.1C700.2,529.3 701.3,528.5 702.4,527.8C703.5,527.0 704.6,526.2 705.7,525.5C706.8,524.7 707.9,523.9 709.0,523.2C710.1,522.4 711.2,521.6 712.3,520.9C713.4,520.1 714.4,519.3 715.5,518.5C716.6,517.8 717.7,517.0 718.8,516.2C719.9,515.4 720.9,514.6 722.0,513.8C723.1,513.1 724.2,512.3 725.2,511.5C726.3,510.7 727.4,509.9 728.5,509.1C729.5,508.3 730.6,507.5 731.7,506.6C732.7,505.8 733.8,505.0 734.8,504.2C735.9,503.4 737.0,502.5 738.0,501.7C739.1,500.9 740.1,500.0 741.2,499.2C742.2,498.3 743.2,497.5 744.3,496.6C745.3,495.8 746.4,494.9 747.4,494.1C748.4,493.2 749.4,492.3 750.5,491.5C751.5,490.6 752.5,489.7 753.5,488.8C754.5,488.0 755.6,487.1 756.6,486.2C757.6,485.3 758.6,484.4 759.6,483.5C760.6,482.6 761.6,481.7 762.6,480.8C763.5,479.9 764.5,479.0 765.5,478.0C766.5,477.1 767.5,476.2 768.4,475.3C769.4,474.3 770.4,473.4 771.3,472.5C772.3,471.5 773.2,470.6 774.2,469.6C775.1,468.7 776.1,467.7 777.0,466.8C777.9,465.8 778.9,464.9 779.8,463.9C780.7,462.9 781.7,462.0 782.6,461.0C783.5,460.0 784.4,459.1 785.3,458.1C786.2,457.1 787.1,456.1 788.0,455.1C788.9,454.1 789.8,453.1 790.7,452.2C791.6,451.2 792.5,450.2 793.4,449.2C794.3,448.2 795.2,447.2 796.1,446.2C797.0,445.2 797.8,444.1 798.7,443.1C799.6,442.1 800.5,441.1 801.3,440.1C802.2,439.1 803.1,438.1 803.9,437.0C804.8,436.0 805.7,435.0 806.5,434.0C807.4,433.0 808.3,431.9 809.1,430.9C810.0,429.9 810.8,428.8 811.7,427.8C812.5,426.8 813.4,425.8 814.2,424.7C815.1,423.7 815.9,422.7 816.8,421.6C817.6,420.6 818.5,419.5 819.3,418.5C820.2,417.5 821.0,416.4 821.9,415.4C822.7,414.4 823.6,413.3 824.4,412.3C825.3,411.2 826.1,410.2 827.0,409.2C827.8,408.1 828.7,407.1 829.5,406.0C830.3,405.0 831.2,403.9 832.0,402.9C832.9,401.9 833.7,400.8 834.6,399.8C835.4,398.7 836.2,397.7 837.1,396.6C837.9,395.6 838.8,394.6 839.6,393.5C840.4,392.5 841.3,391.4 842.1,390.4C843.0,389.3 843.8,388.3 844.6,387.2C845.5,386.2 846.3,385.1 847.1,384.1C848.0,383.0 848.8,382.0 849.7,380.9C850.5,379.9 851.3,378.9 852.2,377.8C853.0,376.8 853.8,375.7 854.7,374.7C855.5,373.6 856.3,372.6 857.2,371.5C858.0,370.5 858.9,369.4 859.7,368.4C860.5,367.3 861.4,366.3 862.2,365.2C863.0,364.2 863.9,363.1 864.7,362.1C865.5,361.0 866.4,360.0 867.2,358.9C868.0,357.9 868.9,356.9 869.7,355.8C870.5,354.8 871.4,353.7 872.2,352.7C873.0,351.6 873.9,350.6 874.7,349.5C875.5,348.5 876.4,347.4 877.2,346.4C878.0,345.3 878.9,344.3 879.7,343.3C880.5,342.2 881.4,341.2 882.2,340.1C883.1,339.1 883.9,338.0 884.7,337.0C885.6,336.0 886.4,334.9 887.2,333.9C888.1,332.8 888.9,331.8 889.7,330.8C890.6,329.7 891.4,328.7 892.2,327.6C893.1,326.6 893.9,325.6 894.8,324.5C895.6,323.5 896.4,322.4 897.3,321.4C898.1,320.4 898.9,319.3 899.8,318.3C900.6,317.2 901.4,316.2 902.3,315.1C903.1,314.1 904.0,313.0 904.8,312.0C905.6,310.9 906.5,309.9 907.3,308.8C908.1,307.8 909.0,306.7 909.8,305.6C910.7,304.6 911.5,303.5 912.3,302.4C913.2,301.4 914.0,300.3 914.9,299.2C915.7,298.2 916.6,297.1 917.5,296.1C918.3,295.0 919.2,294.0 920.1,293.0C921.0,292.0 921.9,291.0 922.9,290.0C923.8,289.1 924.7,288.1 925.7,287.2C926.7,286.3 927.7,285.4 928.7,284.6C929.8,283.7 930.8,282.9 931.9,282.1C933.0,281.4 934.1,280.7 935.3,280.0C936.4,279.3 937.6,278.6 938.8,278.0C940.0,277.5 941.2,276.9 942.4,276.4C943.7,275.9 945.0,275.5 946.2,275.1C947.5,274.7 948.8,274.3 950.2,274.1C951.5,273.8 952.9,273.6 954.2,273.4C955.6,273.2 956.9,273.2 958.3,273.2C959.6,273.2 961.0,273.2 962.3,273.4C963.6,273.6 964.9,273.9 966.2,274.3C967.4,274.7 968.6,275.2 969.8,275.8C971.0,276.4 972.1,277.1 973.2,277.8C974.3,278.6 975.4,279.4 976.5,280.3C977.5,281.2 978.5,282.1 979.5,283.0C980.5,283.9 981.4,284.9 982.4,285.9C983.3,286.8 984.2,287.8 985.1,288.9C986.0,289.9 986.8,290.9 987.7,292.0C988.5,293.0 989.4,294.1 990.2,295.1C991.0,296.2 991.8,297.3 992.6,298.4C993.4,299.5 994.2,300.6 995.0,301.7C995.8,302.7 996.6,303.8 997.4,304.9C998.1,306.0 998.9,307.1 999.7,308.2C1000.5,309.3 1001.2,310.4 1002.0,311.5C1002.8,312.6 1003.5,313.7 1004.3,314.9C1005.1,316.0 1005.8,317.1 1006.6,318.2C1007.3,319.3 1008.1,320.4 1008.8,321.5C1009.6,322.6 1010.3,323.7 1011.1,324.8C1011.8,325.9 1012.5,327.1 1013.3,328.2C1014.0,329.3 1014.7,330.4 1015.5,331.5C1016.2,332.7 1016.9,333.8 1017.6,334.9C1018.4,336.0 1019.1,337.1 1019.8,338.3C1020.5,339.4 1021.2,340.5 1021.9,341.7C1022.6,342.8 1023.3,343.9 1024.0,345.1C1024.7,346.2 1025.4,347.3 1026.1,348.5C1026.8,349.6 1027.5,350.8 1028.2,351.9C1028.9,353.1 1029.6,354.2 1030.2,355.4C1030.9,356.5 1031.6,357.7 1032.2,358.8C1032.9,360.0 1033.6,361.1 1034.2,362.3C1034.9,363.4 1035.6,364.6 1036.2,365.8C1036.9,366.9 1037.5,368.1 1038.2,369.3C1038.8,370.4 1039.5,371.6 1040.1,372.8C1040.7,374.0 1041.4,375.1 1042.0,376.3C1042.6,377.5 1043.3,378.7 1043.9,379.9C1044.5,381.1 1045.1,382.2 1045.7,383.4C1046.4,384.6 1047.0,385.8 1047.6,387.0C1048.2,388.2 1048.8,389.4 1049.4,390.6C1050.0,391.8 1050.6,393.0 1051.2,394.2C1051.8,395.4 1052.4,396.6 1053.0,397.8C1053.6,399.0 1054.2,400.2 1054.7,401.4C1055.3,402.6 1055.9,403.8 1056.5,405.1C1057.1,406.3 1057.6,407.5 1058.2,408.7C1058.8,409.9 1059.3,411.1 1059.9,412.3C1060.5,413.6 1061.0,414.8 1061.6,416.0C1062.2,417.2 1062.7,418.4 1063.3,419.7C1063.8,420.9 1064.4,422.1 1064.9,423.3C1065.5,424.6 1066.0,425.8 1066.6,427.0C1067.1,428.3 1067.6,429.5 1068.2,430.7C1068.7,431.9 1069.3,433.2 1069.8,434.4C1070.3,435.6 1070.9,436.9 1071.4,438.1C1071.9,439.3 1072.4,440.6 1073.0,441.8C1073.5,443.1 1074.0,444.3 1074.5,445.5C1075.1,446.8 1075.6,448.0 1076.1,449.2C1076.6,450.5 1077.1,451.7 1077.6,453.0C1078.2,454.2 1078.7,455.4 1079.2,456.7C1079.7,457.9 1080.2,459.2 1080.7,460.4C1081.3,461.6 1081.8,462.9 1082.3,464.1C1082.8,465.4 1083.3,466.6 1083.8,467.8C1084.3,469.1 1084.8,470.3 1085.4,471.5C1085.9,472.8 1086.4,474.0 1086.9,475.3C1087.4,476.5 1087.9,477.7 1088.4,479.0C1089.0,480.2 1089.5,481.5 1090.0,482.7C1090.5,483.9 1091.0,485.2 1091.6,486.4C1092.1,487.6 1092.6,488.9 1093.1,490.1C1093.6,491.3 1094.2,492.6 1094.7,493.8C1095.2,495.0 1095.7,496.3 1096.3,497.5C1096.8,498.7 1097.3,499.9 1097.9,501.2C1098.4,502.4 1098.9,503.6 1099.5,504.8C1100.0,506.1 1100.6,507.3 1101.1,508.5C1101.7,509.7 1102.2,511.0 1102.8,512.2C1103.3,513.4 1103.9,514.6 1104.4,515.8C1105.0,517.0 1105.5,518.3 1106.1,519.5C1106.7,520.7 1107.2,521.9 1107.8,523.1C1108.4,524.3 1109.0,525.5 1109.5,526.7C1110.1,527.9 1110.7,529.1 1111.3,530.3C1111.9,531.5 1112.5,532.7 1113.1,533.9C1113.7,535.1 1114.3,536.3 1114.9,537.5C1115.5,538.7 1116.1,539.9 1116.7,541.1C1117.3,542.3 1117.9,543.5 1118.6,544.6C1119.2,545.8 1119.8,547.0 1120.4,548.2C1121.1,549.4 1121.7,550.6 1122.3,551.7C1123.0,552.9 1123.6,554.1 1124.2,555.3C1124.9,556.4 1125.5,557.6 1126.2,558.8C1126.8,559.9 1127.5,561.1 1128.1,562.3C1128.8,563.4 1129.5,564.6 1130.1,565.8C1130.8,566.9 1131.5,568.1 1132.1,569.2C1132.8,570.4 1133.5,571.6 1134.2,572.7C1134.8,573.9 1135.5,575.0 1136.2,576.2C1136.9,577.3 1137.6,578.5 1138.2,579.6C1138.9,580.8 1139.6,581.9 1140.3,583.1C1141.0,584.2 1141.7,585.4 1142.4,586.5C1143.1,587.7 1143.8,588.8 1144.5,589.9C1145.2,591.1 1145.9,592.2 1146.6,593.4C1147.4,594.5 1148.1,595.6 1148.8,596.8C1149.5,597.9 1150.2,599.0 1150.9,600.2C1151.7,601.3 1152.4,602.4 1153.1,603.6C1153.8,604.7 1154.6,605.8 1155.3,606.9C1156.0,608.1 1156.7,609.2 1157.5,610.3C1158.2,611.4 1158.9,612.6 1159.7,613.7C1160.4,614.8 1161.2,615.9 1161.9,617.1C1162.6,618.2 1163.4,619.3 1164.1,620.4C1164.9,621.5 1165.6,622.6 1166.4,623.8C1167.1,624.9 1167.9,626.0 1168.6,627.1C1169.4,628.2 1170.1,629.3 1170.9,630.4C1171.6,631.5 1172.4,632.6 1173.1,633.8C1173.9,634.9 1174.6,636.0 1175.4,637.1C1176.2,638.2 1176.9,639.3 1177.7,640.4C1178.4,641.5 1179.2,642.6 1180.0,643.7C1180.7,644.8 1181.5,645.9 1182.3,647.0C1183.0,648.1 1183.8,649.2 1184.6,650.3C1185.4,651.4 1186.1,652.5 1186.9,653.5C1187.7,654.6 1188.5,655.7 1189.3,656.7C1190.2,657.8 1191.0,658.8 1191.8,659.9C1192.7,660.9 1193.6,661.9 1194.5,662.9C1195.3,663.9 1196.3,664.9 1197.2,665.9C1198.1,666.8 1199.1,667.8 1200.1,668.7C1201.1,669.6 1202.1,670.5 1203.1,671.4C1204.2,672.2 1205.2,673.1 1206.3,673.9C1207.4,674.7 1208.5,675.4 1209.7,676.1C1210.8,676.8 1212.0,677.5 1213.2,678.1C1214.4,678.7 1215.7,679.2 1216.9,679.7C1218.2,680.1 1219.4,680.5 1220.7,680.9C1222.0,681.3 1223.3,681.6 1224.6,681.9C1225.9,682.2 1227.2,682.4 1228.6,682.7C1229.9,682.9 1231.2,683.1 1232.6,683.2C1233.9,683.4 1235.2,683.6 1236.6,683.7C1237.9,683.9 1239.2,684.0 1240.6,684.2C1241.9,684.3 1243.2,684.5 1244.5,684.7C1245.9,684.9 1247.2,685.1 1248.5,685.4"/>
<path d="M92.1,1596.7L192,1597.1M192.0,1597.1C193.4,1597.3 194.7,1597.3 196.0,1597.3C197.4,1597.3 198.7,1597.2 200.0,1597.0C201.3,1596.9 202.7,1596.7 204.0,1596.5C205.3,1596.2 206.6,1596.0 207.9,1595.7C209.2,1595.5 210.6,1595.2 211.9,1594.9C213.2,1594.7 214.5,1594.5 215.8,1594.3C217.1,1594.1 218.5,1593.9 219.8,1593.8C221.1,1593.7 222.4,1593.6 223.8,1593.5C225.1,1593.4 226.4,1593.4 227.7,1593.4C229.1,1593.3 230.4,1593.3 231.7,1593.4C233.1,1593.4 234.4,1593.4 235.8,1593.5C237.1,1593.5 238.4,1593.6 239.8,1593.6C241.1,1593.7 242.5,1593.8 243.8,1593.9C245.2,1594.0 246.5,1594.1 247.9,1594.2C249.2,1594.3 250.5,1594.4 251.9,1594.4C253.2,1594.5 254.6,1594.6 255.9,1594.7C257.3,1594.7 258.6,1594.8 260.0,1594.8C261.3,1594.7 262.6,1594.7 264.0,1594.6C265.3,1594.5 266.6,1594.3 267.9,1594.0C269.2,1593.7 270.5,1593.4 271.7,1593.0C273.0,1592.7 274.3,1592.2 275.5,1591.8C276.8,1591.4 278.1,1590.9 279.3,1590.5C280.6,1590.1 281.9,1589.6 283.1,1589.2C284.4,1588.7 285.6,1588.3 286.9,1587.8C288.2,1587.4 289.4,1586.9 290.7,1586.5C291.9,1586.0 293.2,1585.6 294.5,1585.1C295.7,1584.7 297.0,1584.2 298.2,1583.8C299.5,1583.3 300.8,1582.9 302.0,1582.4C303.3,1582.0 304.6,1581.6 305.8,1581.2C307.1,1580.7 308.4,1580.3 309.6,1579.9C310.9,1579.5 312.2,1579.1 313.5,1578.7C314.7,1578.3 316.0,1577.9 317.3,1577.5C318.6,1577.2 319.9,1576.8 321.2,1576.4C322.4,1576.0 323.7,1575.7 325.0,1575.3C326.3,1574.9 327.6,1574.6 328.9,1574.2C330.2,1573.8 331.4,1573.5 332.7,1573.1C334.0,1572.8 335.3,1572.5 336.6,1572.1C337.9,1571.8 339.2,1571.4 340.5,1571.1C341.8,1570.8 343.1,1570.5 344.4,1570.1C345.7,1569.8 347.0,1569.5 348.3,1569.2C349.6,1568.8 350.9,1568.5 352.2,1568.2C353.5,1567.8 354.8,1567.5 356.0,1567.1C357.3,1566.8 358.6,1566.4 359.9,1566.1C361.2,1565.7 362.5,1565.3 363.7,1564.9C365.0,1564.5 366.3,1564.1 367.5,1563.7C368.8,1563.3 370.1,1562.8 371.3,1562.4C372.6,1561.9 373.8,1561.4 375.1,1560.9C376.3,1560.4 377.5,1559.9 378.8,1559.3C380.0,1558.8 381.2,1558.2 382.4,1557.6C383.6,1557.0 384.7,1556.3 385.9,1555.7C387.1,1555.0 388.2,1554.3 389.3,1553.6C390.4,1552.9 391.5,1552.1 392.6,1551.3C393.7,1550.6 394.8,1549.7 395.8,1548.9C396.9,1548.1 397.9,1547.2 398.9,1546.3C399.9,1545.5 400.9,1544.6 401.9,1543.7C402.9,1542.8 403.9,1541.9 405.0,1541.0C406.0,1540.1 407.0,1539.2 408.0,1538.4C409.0,1537.5 410.0,1536.6 411.1,1535.8C412.1,1535.0 413.2,1534.2 414.3,1533.4C415.3,1532.6 416.4,1531.9 417.6,1531.1C418.7,1530.4 419.9,1529.8 421.0,1529.1C422.2,1528.5 423.4,1527.9 424.7,1527.4C425.9,1526.8 427.1,1526.3 428.4,1525.7C429.6,1525.2 430.8,1524.6 432.0,1524.0C433.2,1523.5 434.4,1522.8 435.6,1522.2C436.7,1521.5 437.9,1520.8 438.9,1520.0C440.0,1519.2 441.1,1518.4 442.1,1517.5C443.1,1516.6 444.1,1515.7 445.1,1514.8C446.1,1513.9 447.0,1513.0 448.0,1512.0C448.9,1511.0 449.9,1510.1 450.9,1509.2C451.8,1508.2 452.8,1507.3 453.8,1506.5C454.9,1505.7 455.9,1504.9 457.0,1504.2C458.2,1503.4 459.3,1502.8 460.5,1502.2C461.7,1501.6 463.0,1501.1 464.2,1500.5C465.4,1500.0 466.7,1499.4 467.9,1498.8C469.1,1498.3 470.3,1497.7 471.5,1497.0C472.6,1496.3 473.8,1495.6 474.9,1494.9C476.0,1494.1 477.0,1493.3 478.0,1492.5C479.1,1491.6 480.1,1490.7 481.1,1489.8C482.0,1488.9 483.0,1488.0 483.9,1487.0C484.9,1486.0 485.8,1485.1 486.6,1484.0C487.5,1483.0 488.4,1482.0 489.3,1481.0C490.1,1479.9 491.0,1478.9 491.8,1477.8C492.6,1476.7 493.4,1475.7 494.2,1474.6C495.0,1473.5 495.8,1472.4 496.6,1471.4C497.4,1470.3 498.2,1469.2 499.0,1468.1C499.7,1467.0 500.5,1465.9 501.2,1464.8C502.0,1463.7 502.8,1462.6 503.5,1461.5C504.3,1460.4 505.0,1459.3 505.7,1458.2C506.5,1457.1 507.2,1456.0 508.0,1454.9C508.7,1453.8 509.5,1452.7 510.2,1451.6C511.0,1450.5 511.7,1449.4 512.5,1448.3C513.2,1447.2 514.0,1446.1 514.8,1445.0C515.6,1443.9 516.4,1442.9 517.2,1441.8C518.1,1440.8 518.9,1439.7 519.7,1438.7C520.6,1437.7 521.5,1436.7 522.4,1435.7C523.3,1434.8 524.2,1433.8 525.2,1432.9C526.1,1431.9 527.1,1431.0 528.1,1430.1C529.1,1429.3 530.1,1428.4 531.2,1427.5C532.2,1426.7 533.3,1425.8 534.3,1425.0C535.4,1424.2 536.5,1423.4 537.6,1422.6C538.7,1421.8 539.8,1421.1 540.9,1420.3C542.1,1419.6 543.2,1418.8 544.3,1418.1C545.5,1417.4 546.6,1416.7 547.7,1416.0C548.9,1415.3 550.0,1414.6 551.2,1413.9C552.4,1413.3 553.5,1412.6 554.7,1412.0C555.8,1411.3 557.0,1410.7 558.2,1410.0C559.4,1409.4 560.6,1408.8 561.7,1408.2C562.9,1407.6 564.1,1407.0 565.3,1406.5C566.5,1405.9 567.7,1405.3 568.9,1404.8C570.1,1404.2 571.4,1403.7 572.6,1403.2C573.8,1402.6 575.0,1402.1 576.3,1401.6C577.5,1401.1 578.8,1400.6 580.0,1400.1C581.3,1399.7 582.5,1399.2 583.8,1398.7C585.0,1398.2 586.3,1397.8 587.6,1397.3C588.8,1396.8 590.1,1396.4 591.3,1395.9C592.6,1395.4 593.8,1394.9 595.1,1394.3C596.3,1393.8 597.5,1393.2 598.7,1392.6C599.9,1392.0 601.1,1391.4 602.2,1390.7C603.4,1390.0 604.5,1389.3 605.6,1388.6C606.8,1387.9 607.9,1387.1 609.0,1386.4C610.1,1385.7 611.2,1384.9 612.4,1384.2C613.5,1383.5 614.6,1382.8 615.8,1382.1C616.9,1381.4 618.1,1380.8 619.3,1380.1C620.5,1379.5 621.7,1379.0 622.9,1378.5C624.1,1377.9 625.4,1377.4 626.6,1377.0C627.9,1376.5 629.1,1376.0 630.4,1375.5C631.6,1374.9 632.8,1374.4 634.0,1373.8C635.2,1373.2 636.4,1372.6 637.5,1371.9C638.7,1371.2 639.8,1370.5 640.9,1369.7C642.0,1369.0 643.1,1368.2 644.2,1367.4C645.3,1366.6 646.3,1365.8 647.4,1365.0C648.5,1364.2 649.5,1363.3 650.6,1362.5C651.7,1361.7 652.8,1361.0 653.9,1360.2C655.0,1359.4 656.0,1358.6 657.1,1357.9C658.2,1357.1 659.3,1356.3 660.4,1355.6C661.5,1354.8 662.6,1354.1 663.7,1353.3C664.8,1352.6 665.9,1351.8 667.0,1351.1C668.2,1350.3 669.3,1349.6 670.4,1348.8C671.5,1348.1 672.6,1347.3 673.7,1346.5C674.8,1345.8 675.9,1345.0 677.0,1344.2C678.1,1343.5 679.2,1342.7 680.2,1341.9C681.3,1341.1 682.4,1340.3 683.5,1339.5C684.6,1338.7 685.6,1337.9 686.7,1337.0C687.7,1336.2 688.7,1335.3 689.7,1334.4C690.7,1333.4 691.6,1332.5 692.5,1331.5C693.4,1330.5 694.2,1329.5 695.1,1328.5C695.9,1327.4 696.7,1326.3 697.5,1325.3C698.3,1324.2 699.0,1323.1 699.9,1322.1C700.7,1321.0 701.5,1320.0 702.4,1319.0C703.3,1318.0 704.2,1317.0 705.2,1316.1C706.2,1315.2 707.2,1314.3 708.2,1313.4C709.2,1312.5 710.2,1311.6 711.2,1310.6C712.1,1309.7 713.1,1308.7 714.0,1307.8C714.9,1306.8 715.7,1305.8 716.5,1304.7C717.3,1303.7 718.1,1302.6 718.9,1301.5C719.7,1300.4 720.4,1299.3 721.1,1298.2C721.9,1297.1 722.6,1296.0 723.3,1294.9C724.0,1293.8 724.8,1292.6 725.5,1291.5C726.2,1290.4 727.0,1289.3 727.7,1288.2C728.5,1287.1 729.3,1286.0 730.1,1284.9C730.9,1283.8 731.8,1282.8 732.6,1281.7C733.5,1280.7 734.4,1279.7 735.3,1278.7C736.2,1277.6 737.1,1276.6 738.0,1275.6C738.9,1274.6 739.8,1273.6 740.7,1272.6C741.5,1271.5 742.4,1270.5 743.2,1269.4C744.0,1268.4 744.7,1267.3 745.4,1266.2C746.1,1265.1 746.8,1263.9 747.4,1262.8C747.9,1261.6 748.4,1260.4 748.9,1259.1C749.3,1257.9 749.6,1256.6 750.0,1255.3C750.3,1254.0 750.6,1252.7 750.8,1251.3C751.1,1250.0 751.3,1248.6 751.5,1247.3C751.8,1245.9 752.0,1244.6 752.3,1243.3C752.6,1241.9 752.9,1240.6 753.2,1239.3C753.5,1238.0 753.9,1236.8 754.2,1235.5C754.6,1234.2 755.0,1232.9 755.4,1231.7C755.8,1230.4 756.2,1229.1 756.6,1227.9C757.0,1226.6 757.4,1225.3 757.9,1224.0C758.3,1222.8 758.8,1221.5 759.3,1220.3C759.8,1219.0 760.3,1217.8 760.9,1216.6C761.4,1215.4 762.0,1214.2 762.7,1213.0C763.3,1211.8 764.0,1210.7 764.6,1209.6C765.3,1208.4 766.0,1207.3 766.7,1206.1C767.5,1205.0 768.2,1203.9 768.9,1202.7C769.6,1201.6 770.2,1200.4 770.9,1199.3C771.5,1198.1 772.2,1196.9 772.8,1195.8C773.4,1194.6 774.0,1193.4 774.6,1192.2C775.2,1191.0 775.8,1189.8 776.3,1188.6C776.9,1187.4 777.4,1186.1 778.0,1184.9C778.6,1183.7 779.1,1182.5 779.6,1181.3C780.2,1180.0 780.7,1178.8 781.3,1177.6C781.8,1176.4 782.4,1175.2 782.9,1173.9C783.5,1172.7 784.0,1171.5 784.6,1170.3C785.2,1169.1 785.8,1167.9 786.4,1166.7C787.0,1165.5 787.6,1164.3 788.2,1163.1C788.8,1161.9 789.5,1160.8 790.1,1159.6C790.8,1158.4 791.4,1157.2 792.1,1156.1C792.7,1154.9 793.4,1153.7 794.1,1152.6C794.7,1151.4 795.4,1150.2 796.0,1149.1C796.7,1147.9 797.3,1146.8 798.0,1145.6C798.6,1144.4 799.3,1143.2 799.9,1142.1C800.6,1140.9 801.2,1139.7 801.8,1138.5C802.4,1137.3 803.0,1136.1 803.6,1134.9C804.2,1133.7 804.7,1132.5 805.3,1131.3C805.8,1130.1 806.3,1128.8 806.8,1127.6C807.3,1126.4 807.8,1125.1 808.3,1123.9C808.7,1122.6 809.2,1121.3 809.6,1120.1C810.0,1118.8 810.4,1117.5 810.8,1116.2C811.2,1114.9 811.6,1113.7 811.9,1112.4C812.3,1111.1 812.6,1109.8 812.9,1108.4C813.2,1107.1 813.5,1105.8 813.8,1104.5C814.0,1103.2 814.3,1101.9 814.5,1100.5C814.7,1099.2 814.9,1097.9 815.1,1096.6C815.3,1095.2 815.6,1093.9 815.8,1092.6C816.1,1091.3 816.4,1090.0 816.8,1088.7C817.2,1087.5 817.7,1086.3 818.3,1085.1C818.9,1083.9 819.6,1082.7 820.3,1081.5C820.9,1080.3 821.6,1079.2 822.2,1078.0C822.8,1076.8 823.4,1075.5 823.7,1074.3C824.1,1073.0 824.3,1071.7 824.5,1070.4C824.6,1069.0 824.7,1067.7 824.8,1066.3C824.9,1065.0 825.0,1063.6 825.2,1062.3C825.4,1061.0 825.7,1059.7 826.2,1058.5C826.7,1057.3 827.3,1056.1 828.0,1054.9C828.7,1053.7 829.4,1052.6 830.0,1051.4C830.7,1050.2 831.3,1049.0 831.8,1047.8C832.3,1046.6 832.7,1045.3 833.1,1044.0C833.4,1042.7 833.7,1041.4 833.9,1040.1C834.2,1038.8 834.4,1037.4 834.7,1036.1C834.9,1034.8 835.2,1033.4 835.5,1032.1C835.8,1030.8 836.2,1029.5 836.6,1028.2C837.0,1026.9 837.5,1025.7 838.0,1024.5C838.6,1023.3 839.2,1022.1 839.9,1021.1C840.7,1020.0 841.5,1019.0 842.5,1018.1C843.4,1017.1 844.5,1016.3 845.6,1015.5C846.8,1014.8 848.1,1014.2 849.3,1013.7C850.6,1013.2 852.0,1012.8 853.3,1012.5C854.7,1012.3 856.0,1012.2 857.4,1012.3C858.7,1012.4 860.0,1012.6 861.3,1012.9C862.6,1013.3 863.8,1013.8 865.0,1014.4C866.2,1015.0 867.3,1015.7 868.3,1016.5C869.4,1017.3 870.4,1018.2 871.3,1019.1C872.2,1020.1 873.0,1021.1 873.9,1022.2C874.7,1023.3 875.4,1024.4 876.2,1025.6C876.9,1026.7 877.6,1027.9 878.3,1029.0C879.0,1030.2 879.7,1031.4 880.4,1032.5C881.0,1033.7 881.7,1034.8 882.4,1035.9C883.1,1037.1 883.9,1038.2 884.6,1039.3C885.3,1040.4 886.0,1041.5 886.7,1042.7C887.4,1043.8 888.1,1045.0 888.8,1046.2C889.4,1047.4 889.9,1048.6 890.2,1049.9C890.6,1051.2 890.6,1052.6 890.5,1053.9C890.5,1055.3 890.3,1056.6 890.2,1058.0C890.1,1059.4 890.1,1060.7 890.3,1062.0C890.5,1063.3 890.8,1064.5 891.3,1065.8C891.8,1067.0 892.3,1068.2 892.9,1069.4C893.5,1070.6 894.2,1071.8 894.8,1073.1C895.5,1074.3 896.1,1075.5 896.6,1076.7C897.1,1077.9 897.6,1079.2 898.0,1080.5C898.4,1081.8 898.7,1083.0 899.0,1084.3C899.4,1085.6 899.7,1086.9 900.2,1088.1C900.6,1089.4 901.2,1090.6 901.7,1091.8C902.3,1093.0 902.9,1094.3 903.5,1095.5C904.0,1096.7 904.6,1097.9 905.0,1099.2C905.4,1100.5 905.7,1101.8 905.9,1103.1C906.2,1104.4 906.3,1105.7 906.5,1107.1C906.7,1108.4 906.8,1109.7 907.1,1111.0C907.3,1112.4 907.6,1113.7 908.0,1114.9C908.4,1116.2 908.9,1117.4 909.4,1118.7C910.0,1119.9 910.6,1121.1 911.2,1122.3C911.8,1123.5 912.5,1124.7 913.1,1125.9C913.8,1127.1 914.5,1128.2 915.1,1129.4C915.7,1130.6 916.3,1131.8 916.8,1133.0C917.3,1134.3 917.6,1135.5 918.0,1136.8C918.3,1138.1 918.5,1139.4 918.7,1140.8C919.0,1142.1 919.2,1143.4 919.4,1144.7C919.7,1146.1 920.0,1147.4 920.4,1148.7C920.8,1150.0 921.3,1151.3 921.9,1152.5C922.4,1153.7 923.1,1154.9 923.9,1156.0C924.7,1157.0 925.6,1158.0 926.6,1159.0C927.6,1160.0 928.6,1160.9 929.5,1161.9C930.3,1162.9 931.1,1163.9 931.6,1165.1C932.1,1166.3 932.5,1167.5 932.7,1168.9C932.9,1170.2 933.0,1171.6 933.1,1173.0C933.2,1174.3 933.3,1175.7 933.5,1177.1C933.8,1178.4 934.1,1179.7 934.4,1181.0C934.8,1182.3 935.3,1183.5 935.7,1184.8C936.2,1186.0 936.7,1187.2 937.3,1188.4C937.8,1189.7 938.4,1190.9 938.9,1192.1C939.4,1193.4 939.9,1194.6 940.5,1195.9C941.0,1197.1 941.5,1198.4 941.9,1199.6C942.4,1200.9 942.9,1202.2 943.3,1203.4C943.7,1204.7 944.1,1206.0 944.4,1207.3C944.8,1208.6 945.1,1209.9 945.4,1211.2C945.6,1212.5 945.9,1213.8 946.0,1215.2C946.2,1216.5 946.3,1217.8 946.4,1219.1C946.4,1220.5 946.4,1221.8 946.4,1223.1C946.4,1224.5 946.3,1225.8 946.3,1227.2C946.3,1228.5 946.2,1229.9 946.3,1231.2C946.3,1232.5 946.4,1233.9 946.5,1235.2C946.7,1236.5 946.9,1237.8 947.1,1239.2C947.3,1240.5 947.6,1241.8 947.8,1243.1C948.1,1244.4 948.4,1245.7 948.6,1247.1C948.8,1248.4 949.0,1249.7 949.2,1251.0C949.3,1252.4 949.4,1253.7 949.4,1255.0C949.4,1256.3 949.4,1257.7 949.3,1259.0C949.3,1260.4 949.2,1261.7 949.1,1263.0C949.0,1264.4 948.9,1265.7 948.9,1267.0C948.9,1268.4 949.0,1269.7 949.1,1271.0C949.3,1272.3 949.5,1273.6 949.8,1274.9C950.1,1276.2 950.4,1277.5 950.8,1278.8C951.1,1280.1 951.5,1281.4 951.8,1282.7C952.1,1284.1 952.4,1285.4 952.7,1286.7C952.9,1288.0 953.2,1289.3 953.4,1290.6C953.7,1292.0 953.9,1293.3 954.2,1294.6C954.5,1295.9 954.8,1297.2 955.2,1298.4C955.6,1299.7 956.0,1301.0 956.4,1302.2C956.9,1303.5 957.3,1304.7 957.8,1306.0C958.3,1307.2 958.8,1308.5 959.3,1309.7C959.8,1311.0 960.3,1312.2 960.7,1313.5C961.2,1314.7 961.7,1316.0 962.2,1317.3C962.6,1318.5 963.1,1319.8 963.5,1321.1C964.0,1322.3 964.4,1323.6 964.8,1324.9C965.2,1326.1 965.6,1327.4 966.0,1328.7C966.3,1330.0 966.7,1331.3 967.0,1332.6C967.3,1333.9 967.6,1335.2 967.9,1336.5C968.1,1337.8 968.3,1339.1 968.5,1340.4C968.7,1341.7 968.9,1343.1 969.1,1344.4C969.2,1345.7 969.4,1347.1 969.5,1348.4C969.7,1349.7 969.8,1351.1 970.0,1352.4C970.2,1353.7 970.4,1355.0 970.6,1356.4C970.8,1357.7 971.0,1359.0 971.2,1360.3C971.4,1361.7 971.7,1363.0 971.8,1364.3C972.0,1365.6 972.2,1367.0 972.3,1368.3C972.4,1369.6 972.4,1370.9 972.4,1372.3C972.4,1373.6 972.4,1375.0 972.4,1376.3C972.3,1377.6 972.3,1379.0 972.3,1380.3C972.2,1381.7 972.2,1383.0 972.3,1384.3C972.3,1385.7 972.4,1387.0 972.5,1388.3C972.7,1389.7 972.8,1391.0 973.0,1392.3C973.2,1393.6 973.4,1395.0 973.6,1396.3C973.8,1397.6 974.0,1398.9 974.2,1400.3C974.4,1401.6 974.6,1402.9 974.7,1404.2C974.9,1405.6 975.0,1406.9 975.2,1408.2C975.3,1409.5 975.5,1410.9 975.6,1412.2C975.7,1413.5 975.9,1414.9 976.0,1416.2C976.1,1417.5 976.2,1418.9 976.4,1420.2C976.5,1421.6 976.7,1422.9 976.9,1424.2C977.1,1425.6 977.3,1426.9 977.7,1428.1C978.1,1429.4 978.5,1430.7 979.1,1431.9C979.6,1433.1 980.3,1434.3 980.9,1435.5C981.5,1436.7 982.2,1437.9 982.8,1439.1C983.4,1440.3 983.9,1441.5 984.3,1442.7C984.7,1444.0 985.0,1445.3 985.2,1446.6C985.5,1447.9 985.6,1449.2 985.7,1450.5C985.8,1451.9 985.9,1453.2 985.9,1454.6C986.0,1456.0 986.0,1457.3 986.0,1458.7C986.1,1460.1 986.2,1461.4 986.3,1462.8C986.4,1464.1 986.5,1465.4 986.7,1466.8C986.8,1468.1 987.0,1469.4 987.3,1470.7C987.5,1472.0 987.8,1473.3 988.1,1474.6C988.4,1475.9 988.7,1477.2 989.1,1478.5C989.4,1479.8 989.8,1481.1 990.2,1482.3C990.6,1483.6 991.1,1484.9 991.5,1486.2C991.9,1487.4 992.4,1488.7 992.8,1490.0C993.2,1491.2 993.6,1492.5 994.0,1493.8C994.4,1495.1 994.8,1496.4 995.2,1497.7C995.5,1498.9 995.9,1500.2 996.1,1501.6C996.4,1502.9 996.7,1504.2 996.9,1505.5C997.1,1506.8 997.2,1508.1 997.3,1509.5C997.4,1510.8 997.5,1512.2 997.6,1513.5C997.7,1514.8 997.9,1516.2 998.0,1517.5C998.2,1518.8 998.5,1520.1 998.8,1521.4C999.1,1522.7 999.4,1524.0 999.8,1525.3C1000.2,1526.6 1000.7,1527.8 1001.2,1529.1C1001.6,1530.3 1002.1,1531.6 1002.7,1532.8C1003.2,1534.1 1003.7,1535.3 1004.2,1536.5C1004.8,1537.7 1005.3,1539.0 1005.9,1540.2C1006.4,1541.4 1006.9,1542.6 1007.5,1543.9C1008.0,1545.1 1008.5,1546.3 1009.0,1547.6C1009.5,1548.8 1010.0,1550.1 1010.5,1551.3C1011.0,1552.6 1011.4,1553.8 1012.0,1555.0C1012.5,1556.3 1013.0,1557.5 1013.6,1558.7C1014.2,1559.9 1014.8,1561.1 1015.5,1562.3C1016.1,1563.4 1016.8,1564.5 1017.6,1565.7C1018.3,1566.8 1019.0,1568.0 1019.6,1569.1C1020.3,1570.3 1020.9,1571.5 1021.4,1572.7C1021.9,1573.9 1022.4,1575.2 1022.8,1576.5C1023.2,1577.8 1023.5,1579.1 1023.9,1580.4C1024.3,1581.7 1024.6,1583.0 1025.1,1584.2C1025.5,1585.5 1026.0,1586.8 1026.6,1587.9C1027.2,1589.1 1027.9,1590.3 1028.8,1591.3C1029.6,1592.3 1030.6,1593.3 1031.6,1594.1C1032.7,1594.9 1033.8,1595.6 1035.1,1596.1C1036.3,1596.6 1037.7,1596.9 1039.1,1597.0C1040.5,1597.1 1041.9,1597.3 1042.6,1599.0"/>
<path d="M121.6,1601.8C122.8,1601.1 123.9,1600.4 125.0,1599.7C126.2,1599.0 127.3,1598.2 128.4,1597.5C129.5,1596.7 130.6,1595.9 131.7,1595.1C132.8,1594.4 133.9,1593.6 135.0,1592.8C136.1,1592.1 137.2,1591.3 138.3,1590.6C139.5,1589.9 140.6,1589.2 141.8,1588.6C143.0,1587.9 144.2,1587.3 145.4,1586.8C146.6,1586.2 147.9,1585.7 149.2,1585.2C150.4,1584.7 151.7,1584.3 153.0,1583.7C154.2,1583.2 155.4,1582.6 156.5,1581.9C157.6,1581.2 158.6,1580.3 159.5,1579.3C160.4,1578.4 161.3,1577.3 162.1,1576.3C162.9,1575.2 163.7,1574.0 164.5,1572.9C165.3,1571.8 166.2,1570.8 167.0,1569.7C167.8,1568.7 168.7,1567.6 169.5,1566.6C170.4,1565.6 171.3,1564.5 172.2,1563.5C173.0,1562.5 173.9,1561.5 174.9,1560.6C175.8,1559.6 176.7,1558.6 177.7,1557.7C178.7,1556.7 179.7,1555.8 180.8,1555.1C181.9,1554.3 183.0,1553.6 184.2,1553.0C185.4,1552.4 186.6,1551.9 187.9,1551.4C189.2,1551.0 190.5,1550.5 191.7,1550.1C193.0,1549.7 194.3,1549.2 195.6,1548.7C196.8,1548.2 198.0,1547.7 199.3,1547.2C200.5,1546.6 201.7,1546.0 202.9,1545.4C204.1,1544.8 205.2,1544.1 206.4,1543.4C207.5,1542.7 208.7,1542.0 209.8,1541.3C211.0,1540.5 212.1,1539.8 213.2,1539.1C214.3,1538.3 215.5,1537.6 216.6,1536.9C217.8,1536.2 218.9,1535.6 220.1,1535.0C221.2,1534.3 222.4,1533.7 223.6,1533.1C224.8,1532.5 226.0,1531.9 227.2,1531.3C228.4,1530.7 229.6,1530.1 230.8,1529.5C232.0,1528.8 233.2,1528.2 234.4,1527.5C235.6,1526.9 236.7,1526.2 237.9,1525.5C239.1,1524.8 240.2,1524.0 241.3,1523.2C242.4,1522.5 243.5,1521.7 244.6,1520.8C245.6,1520.0 246.6,1519.1 247.6,1518.2C248.6,1517.3 249.5,1516.3 250.3,1515.3C251.2,1514.3 252.0,1513.3 252.7,1512.2C253.3,1511.0 253.8,1509.8 254.2,1508.5C254.5,1507.2 254.8,1505.8 255.3,1504.6C255.7,1503.3 256.3,1502.1 257.1,1501.0C257.8,1499.9 258.7,1498.9 259.6,1497.9C260.6,1496.9 261.6,1496.0 262.6,1495.0C263.5,1494.1 264.5,1493.1 265.5,1492.2C266.4,1491.2 267.4,1490.3 268.3,1489.3C269.2,1488.4 270.1,1487.4 271.0,1486.4C271.9,1485.4 272.7,1484.4 273.6,1483.3C274.4,1482.3 275.2,1481.2 276.0,1480.1C276.8,1479.1 277.5,1478.0 278.3,1476.8C279.1,1475.7 279.8,1474.6 280.5,1473.5C281.3,1472.3 282.0,1471.2 282.8,1470.1C283.5,1468.9 284.2,1467.8 285.0,1466.7C285.7,1465.5 286.5,1464.4 287.2,1463.3C288.0,1462.2 288.8,1461.1 289.6,1460.0C290.4,1458.9 291.2,1457.9 292.0,1456.8C292.9,1455.8 293.7,1454.8 294.6,1453.8C295.5,1452.8 296.4,1451.8 297.4,1450.9C298.4,1450.0 299.4,1449.1 300.4,1448.3C301.4,1447.4 302.5,1446.6 303.6,1445.8C304.6,1445.0 305.8,1444.3 306.9,1443.5C308.0,1442.7 309.1,1442.0 310.3,1441.3C311.4,1440.5 312.6,1439.8 313.7,1439.1C314.9,1438.4 316.0,1437.6 317.2,1436.9C318.3,1436.2 319.5,1435.5 320.6,1434.7C321.7,1434.0 322.8,1433.2 323.9,1432.5C325.0,1431.7 326.1,1430.9 327.2,1430.1C328.2,1429.3 329.3,1428.5 330.3,1427.6C331.3,1426.7 332.3,1425.8 333.2,1424.9C334.2,1424.0 335.1,1423.0 336.0,1422.0C336.9,1421.0 337.8,1420.0 338.7,1419.0C339.6,1418.0 340.5,1417.0 341.4,1416.0C342.3,1415.0 343.3,1414.0 344.2,1413.1C345.2,1412.2 346.2,1411.3 347.2,1410.4C348.3,1409.6 349.4,1408.7 350.4,1407.9C351.5,1407.1 352.6,1406.3 353.7,1405.5C354.8,1404.7 355.9,1403.9 357.0,1403.1C358.0,1402.3 359.1,1401.5 360.1,1400.6C361.2,1399.8 362.2,1398.9 363.1,1398.0C364.1,1397.1 365.0,1396.2 365.9,1395.2C366.8,1394.2 367.6,1393.1 368.5,1392.1C369.3,1391.0 370.1,1390.0 371.0,1388.9C371.8,1387.9 372.7,1386.8 373.6,1385.8C374.5,1384.8 375.5,1383.8 376.5,1382.9C377.4,1381.9 378.4,1381.0 379.3,1380.0C380.2,1379.0 381.1,1377.9 381.8,1376.8C382.5,1375.7 383.0,1374.5 383.4,1373.3C383.8,1372.0 384.2,1370.7 384.5,1369.4C384.8,1368.1 385.2,1366.7 385.6,1365.5C386.1,1364.2 386.7,1362.9 387.3,1361.8C388.0,1360.6 388.8,1359.5 389.7,1358.5C390.6,1357.5 391.6,1356.6 392.7,1355.8C393.8,1355.0 395.0,1354.2 396.1,1353.4C397.2,1352.7 398.3,1351.9 399.3,1351.0C400.3,1350.1 401.2,1349.2 402.0,1348.1C402.8,1347.0 403.5,1345.9 404.1,1344.7C404.7,1343.5 405.3,1342.3 405.9,1341.1C406.5,1339.9 407.1,1338.7 407.7,1337.5C408.3,1336.3 408.8,1335.1 409.4,1333.9C410.0,1332.7 410.6,1331.5 411.2,1330.3C411.8,1329.1 412.4,1327.9 413.0,1326.7C413.7,1325.5 414.3,1324.4 414.9,1323.2C415.5,1322.0 416.2,1320.8 416.9,1319.6C417.5,1318.4 418.2,1317.3 418.9,1316.1C419.6,1314.9 420.3,1313.7 421.1,1312.6C421.8,1311.5 422.6,1310.4 423.4,1309.3C424.2,1308.2 425.1,1307.2 426.0,1306.2C426.9,1305.2 427.8,1304.2 428.8,1303.3C429.8,1302.5 430.8,1301.6 431.9,1300.9C433.0,1300.1 434.1,1299.4 435.3,1298.6C436.4,1297.9 437.6,1297.3 438.8,1296.6C439.9,1295.9 441.1,1295.2 442.3,1294.6C443.4,1293.9 444.5,1293.1 445.6,1292.3C446.6,1291.4 447.5,1290.5 448.4,1289.5C449.3,1288.5 450.2,1287.5 451.1,1286.5C452.0,1285.5 452.8,1284.4 453.8,1283.4C454.7,1282.5 455.6,1281.5 456.7,1280.7C457.7,1279.8 458.7,1279.0 459.8,1278.1C460.9,1277.3 462.0,1276.5 463.0,1275.7C464.1,1274.9 465.1,1274.0 466.1,1273.1C467.1,1272.2 468.0,1271.3 468.9,1270.3C469.8,1269.3 470.7,1268.3 471.6,1267.2C472.4,1266.2 473.2,1265.1 474.0,1264.0C474.8,1262.9 475.6,1261.8 476.3,1260.6C477.1,1259.5 477.8,1258.4 478.5,1257.2C479.3,1256.1 480.0,1254.9 480.7,1253.8C481.4,1252.6 482.1,1251.5 482.8,1250.3C483.4,1249.2 484.1,1248.0 484.8,1246.8C485.5,1245.7 486.1,1244.5 486.8,1243.4C487.5,1242.2 488.1,1241.1 488.8,1239.9C489.5,1238.7 490.1,1237.6 490.8,1236.4C491.5,1235.3 492.1,1234.1 492.8,1233.0C493.5,1231.8 494.1,1230.7 494.8,1229.5C495.5,1228.4 496.2,1227.2 496.9,1226.1C497.6,1224.9 498.3,1223.8 499.0,1222.7C499.7,1221.5 500.5,1220.4 501.2,1219.3C502.0,1218.2 502.7,1217.0 503.5,1215.9C504.3,1214.8 505.0,1213.7 505.8,1212.6C506.6,1211.5 507.5,1210.4 508.3,1209.4C509.2,1208.3 510.0,1207.2 510.9,1206.1C511.8,1205.1 512.7,1204.1 513.7,1203.1C514.6,1202.1 515.6,1201.2 516.6,1200.3C517.6,1199.4 518.6,1198.6 519.7,1197.8C520.8,1197.1 521.9,1196.4 523.0,1195.8C524.2,1195.2 525.4,1194.7 526.6,1194.3C527.8,1193.9 529.1,1193.7 530.4,1193.5C531.8,1193.2 533.1,1193.1 534.5,1193.0C535.9,1193.0 537.2,1192.9 538.6,1192.9C540.0,1192.9 541.4,1193.0 542.8,1193.0C544.2,1193.0 545.6,1193.0 547.0,1193.0C548.3,1193.0 549.7,1193.0 551.0,1192.9C552.3,1192.8 553.6,1192.7 554.9,1192.7C556.2,1192.7 557.5,1192.8 558.8,1193.0C560.1,1193.1 561.3,1193.5 562.6,1193.9C563.9,1194.3 565.2,1194.8 566.5,1195.3C567.8,1195.8 569.1,1196.4 570.4,1196.8C571.7,1197.3 573.0,1197.8 574.3,1198.4C575.5,1198.9 576.7,1199.6 577.7,1200.4C578.7,1201.2 579.6,1202.1 580.3,1203.3C581.0,1204.4 581.6,1205.6 582.3,1206.8C582.9,1208.0 583.6,1209.2 584.4,1210.3C585.1,1211.4 585.9,1212.5 586.8,1213.5C587.6,1214.6 588.5,1215.6 589.4,1216.6C590.2,1217.6 591.1,1218.5 592.1,1219.5C593.0,1220.5 593.9,1221.5 594.8,1222.4C595.8,1223.4 596.7,1224.4 597.6,1225.4C598.5,1226.3 599.4,1227.4 600.3,1228.4C601.2,1229.4 602.0,1230.5 602.8,1231.6C603.6,1232.6 604.4,1233.8 605.1,1234.9C605.8,1236.0 606.4,1237.2 607.0,1238.4C607.5,1239.6 608.0,1240.9 608.5,1242.1C608.9,1243.4 609.4,1244.7 609.7,1246.0C610.1,1247.2 610.5,1248.6 610.8,1249.9C611.2,1251.2 611.5,1252.5 611.8,1253.8C612.2,1255.1 612.5,1256.4 612.9,1257.7C613.2,1259.0 613.6,1260.3 614.0,1261.6C614.4,1262.9 614.9,1264.2 615.4,1265.4C615.9,1266.6 616.5,1267.8 617.0,1269.0C617.6,1270.2 618.3,1271.4 618.9,1272.6C619.6,1273.7 620.3,1274.9 621.0,1276.0C621.8,1277.1 622.5,1278.2 623.3,1279.3C624.1,1280.4 624.9,1281.5 625.7,1282.6C626.5,1283.6 627.4,1284.7 628.2,1285.8C629.1,1286.8 629.9,1287.9 630.8,1288.9C631.6,1290.0 632.5,1291.0 633.4,1292.1C634.2,1293.1 635.1,1294.2 635.9,1295.2C636.7,1296.3 637.4,1297.4 638.1,1298.5C638.8,1299.7 639.3,1300.8 639.8,1302.1C640.3,1303.3 640.7,1304.6 641.1,1305.9C641.5,1307.2 641.9,1308.5 642.3,1309.8C642.7,1311.1 643.2,1312.4 643.7,1313.6C644.2,1314.8 644.7,1316.1 645.3,1317.3C645.9,1318.5 646.6,1319.6 647.2,1320.8C647.9,1322.0 648.6,1323.1 649.3,1324.3C650.0,1325.5 650.7,1326.6 651.4,1327.8C652.1,1328.9 652.8,1330.0 653.5,1331.2C654.2,1332.4 654.9,1333.5 655.6,1334.7C656.3,1335.8 656.9,1337.0 657.5,1338.2C658.2,1339.4 658.7,1340.6 659.3,1341.8C659.8,1343.0 660.4,1344.3 660.8,1345.5C661.3,1346.8 661.8,1348.0 662.2,1349.3C662.6,1350.6 663.1,1351.8 663.5,1353.1C663.9,1354.4 664.3,1355.7 664.7,1357.0C665.0,1358.3 665.4,1359.6 665.8,1360.8C666.2,1362.1 666.6,1363.4 667.0,1364.7C667.4,1366.0 667.8,1367.3 668.3,1368.5C668.7,1369.8 669.2,1371.0 669.7,1372.3C670.2,1373.5 670.7,1374.8 671.2,1376.0C671.8,1377.2 672.3,1378.4 672.9,1379.6C673.5,1380.8 674.1,1382.0 674.8,1383.2C675.4,1384.4 676.1,1385.6 676.7,1386.7C677.4,1387.9 678.1,1389.0 678.8,1390.2C679.5,1391.4 680.2,1392.5 680.8,1393.7C681.5,1394.9 682.1,1396.0 682.8,1397.2C683.4,1398.4 684.0,1399.6 684.5,1400.8C685.1,1402.1 685.7,1403.3 686.2,1404.5C686.8,1405.7 687.3,1406.9 687.9,1408.2C688.4,1409.4 689.0,1410.6 689.6,1411.8C690.1,1413.0 690.7,1414.2 691.4,1415.4C692.0,1416.6 692.7,1417.7 693.3,1418.9C694.0,1420.1 694.7,1421.2 695.4,1422.4C696.1,1423.5 696.8,1424.6 697.5,1425.8C698.3,1426.9 699.0,1428.0 699.8,1429.1C700.5,1430.2 701.3,1431.4 702.1,1432.5C702.8,1433.6 703.6,1434.7 704.4,1435.8C705.1,1436.9 705.9,1438.0 706.7,1439.1C707.5,1440.2 708.2,1441.3 709.0,1442.4C709.8,1443.5 710.5,1444.6 711.3,1445.7C712.1,1446.8 712.8,1447.9 713.6,1449.0C714.4,1450.1 715.1,1451.2 715.9,1452.3C716.7,1453.3 717.5,1454.4 718.4,1455.4C719.3,1456.5 720.1,1457.5 721.1,1458.5C722.0,1459.4 722.9,1460.4 723.9,1461.4C724.8,1462.4 725.7,1463.3 726.6,1464.4C727.5,1465.4 728.3,1466.5 729.0,1467.6C729.7,1468.7 730.4,1469.9 731.0,1471.1C731.7,1472.2 732.3,1473.4 732.9,1474.6C733.5,1475.8 734.1,1477.0 734.8,1478.2C735.4,1479.4 736.1,1480.5 736.8,1481.7C737.5,1482.8 738.2,1484.0 738.9,1485.1C739.5,1486.3 740.2,1487.5 740.9,1488.6C741.6,1489.8 742.3,1490.9 743.1,1492.0C743.8,1493.2 744.5,1494.3 745.3,1495.4C746.0,1496.5 746.8,1497.6 747.7,1498.7C748.5,1499.7 749.4,1500.7 750.3,1501.7C751.2,1502.7 752.1,1503.6 753.1,1504.6C754.0,1505.6 754.9,1506.6 755.8,1507.6C756.7,1508.6 757.6,1509.6 758.4,1510.7C759.1,1511.8 759.9,1512.9 760.6,1514.1C761.3,1515.2 761.9,1516.4 762.7,1517.6C763.4,1518.7 764.1,1519.8 764.9,1520.9C765.7,1522.0 766.6,1522.9 767.6,1523.8C768.6,1524.7 769.6,1525.6 770.7,1526.4C771.8,1527.2 772.9,1528.0 774.0,1528.8C775.1,1529.6 776.1,1530.4 777.2,1531.2C778.2,1532.1 779.3,1532.9 780.3,1533.8C781.3,1534.6 782.2,1535.5 783.2,1536.5C784.2,1537.4 785.1,1538.4 786.0,1539.4C786.9,1540.3 787.8,1541.3 788.7,1542.3C789.7,1543.3 790.6,1544.3 791.5,1545.3C792.4,1546.3 793.4,1547.2 794.3,1548.1C795.3,1549.1 796.3,1550.0 797.3,1550.8C798.3,1551.7 799.4,1552.5 800.5,1553.2C801.6,1553.9 802.8,1554.6 804.0,1555.3C805.2,1555.9 806.4,1556.5 807.6,1557.2C808.8,1557.8 810.0,1558.5 811.1,1559.2C812.3,1559.8 813.4,1560.6 814.5,1561.4C815.6,1562.1 816.7,1562.9 817.8,1563.7C818.8,1564.6 819.9,1565.4 820.9,1566.3C822.0,1567.1 823.0,1568.0 824.1,1568.8C825.1,1569.7 826.1,1570.6 827.2,1571.4C828.2,1572.3 829.2,1573.1 830.3,1573.9C831.4,1574.8 832.4,1575.6 833.5,1576.3C834.6,1577.1 835.7,1577.8 836.9,1578.5C838.0,1579.2 839.2,1579.9 840.4,1580.5C841.5,1581.1 842.7,1581.7 844.0,1582.3C845.2,1582.9 846.4,1583.5 847.6,1584.1C848.8,1584.6 850.0,1585.2 851.2,1585.8C852.4,1586.5 853.6,1587.1 854.8,1587.8C856.0,1588.4 857.1,1589.1 858.2,1589.9C859.3,1590.6 860.4,1591.4 861.6,1592.1C862.7,1592.8 863.8,1593.5 865.0,1594.2C866.2,1594.8 867.4,1595.4 868.6,1596.0C869.8,1596.6 871.0,1597.1 872.3,1597.7C873.5,1598.3 874.7,1598.8 875.9,1599.4"/>
<path d="M454.9,1596.7C456.2,1596.3 457.4,1595.8 458.6,1595.1C459.8,1594.5 460.9,1593.8 462.0,1593.0C463.1,1592.2 464.2,1591.4 465.2,1590.5C466.3,1589.7 467.4,1588.8 468.4,1588.0C469.5,1587.1 470.6,1586.3 471.7,1585.6C472.8,1584.9 474.0,1584.3 475.2,1583.7C476.4,1583.2 477.6,1582.8 478.9,1582.4C480.2,1582.1 481.5,1581.7 482.8,1581.4C484.1,1581.0 485.4,1580.7 486.7,1580.2C488.0,1579.8 489.2,1579.3 490.4,1578.6C491.5,1578.0 492.7,1577.3 493.8,1576.5C494.9,1575.7 496.0,1574.9 497.1,1574.1C498.2,1573.4 499.4,1572.6 500.5,1571.9C501.6,1571.2 502.8,1570.5 504.0,1570.0C505.2,1569.4 506.4,1568.9 507.7,1568.4C508.9,1567.9 510.1,1567.5 511.4,1567.1C512.7,1566.7 514.0,1566.4 515.3,1566.0C516.6,1565.7 517.9,1565.4 519.2,1565.1C520.5,1564.7 521.8,1564.4 523.1,1564.1C524.4,1563.8 525.8,1563.5 527.1,1563.1C528.4,1562.8 529.7,1562.4 530.9,1561.8C532.1,1561.3 533.3,1560.7 534.5,1559.8C535.6,1559.0 536.6,1557.9 537.2,1556.8C537.8,1555.6 537.8,1554.4 537.5,1553.0C537.2,1551.7 536.6,1550.4 536.4,1549.2C536.2,1547.9 536.5,1546.8 537.2,1545.7C538.0,1544.7 539.1,1543.8 540.3,1543.1C541.5,1542.3 542.7,1541.6 544.0,1541.0C545.2,1540.4 546.5,1539.9 547.8,1539.5C549.1,1539.0 550.4,1538.6 551.7,1538.2C553.0,1537.8 554.3,1537.4 555.6,1536.9C556.8,1536.5 558.1,1536.0 559.3,1535.5C560.5,1535.0 561.6,1534.4 562.7,1533.7C563.9,1533.0 564.9,1532.3 566.0,1531.5C567.0,1530.6 568.0,1529.8 569.0,1528.9C569.9,1527.9 570.9,1527.0 571.8,1526.0C572.7,1525.0 573.7,1524.0 574.6,1523.0C575.5,1522.0 576.4,1520.9 577.3,1519.9C578.2,1518.9 579.1,1517.9 580.1,1516.9C581.0,1515.9 581.9,1514.9 582.9,1514.0C583.8,1513.0 584.8,1512.1 585.7,1511.2C586.6,1510.2 587.4,1509.2 588.2,1508.1C588.9,1507.1 589.6,1505.9 590.2,1504.7C590.7,1503.5 591.2,1502.2 591.8,1501.0C592.3,1499.7 592.8,1498.4 593.4,1497.3C594.1,1496.1 594.8,1495.0 595.6,1493.9C596.4,1492.8 597.2,1491.8 598.1,1490.8C599.0,1489.8 599.9,1488.9 600.9,1487.9C601.8,1486.9 602.8,1486.0 603.7,1485.0C604.7,1484.1 605.7,1483.1 606.6,1482.2C607.6,1481.3 608.5,1480.3 609.5,1479.4C610.4,1478.4 611.3,1477.4 612.2,1476.4C613.1,1475.5 614.0,1474.5 614.9,1473.4C615.7,1472.4 616.5,1471.4 617.3,1470.3C618.1,1469.2 618.8,1468.1 619.5,1467.0C620.2,1465.8 620.9,1464.7 621.5,1463.5C622.1,1462.3 622.7,1461.1 623.2,1459.9C623.8,1458.6 624.3,1457.4 624.8,1456.1C625.2,1454.9 625.7,1453.6 626.1,1452.3C626.5,1451.0 626.9,1449.7 627.3,1448.4C627.6,1447.1 628.0,1445.8 628.3,1444.5C628.6,1443.1 628.9,1441.8 629.2,1440.5C629.5,1439.2 629.8,1437.9 630.2,1436.6C630.6,1435.4 631.0,1434.1 631.5,1432.9C632.0,1431.7 632.5,1430.5 633.2,1429.4C633.9,1428.2 634.6,1427.1 635.4,1426.0C636.2,1425.0 637.0,1423.9 637.9,1422.8C638.7,1421.8 639.6,1420.7 640.4,1419.6C641.3,1418.6 642.1,1417.5 642.9,1416.4C643.6,1415.3 644.4,1414.2 645.1,1413.0C645.8,1411.9 646.5,1410.7 647.1,1409.5C647.8,1408.4 648.4,1407.2 649.0,1406.0C649.6,1404.8 650.2,1403.6 650.7,1402.4C651.3,1401.2 651.8,1400.0 652.4,1398.7C652.9,1397.5 653.5,1396.3 654.0,1395.1C654.5,1393.8 655.1,1392.6 655.6,1391.4C656.1,1390.1 656.7,1388.9 657.2,1387.7C657.8,1386.5 658.3,1385.3 658.9,1384.0C659.5,1382.8 660.1,1381.6 660.7,1380.4C661.3,1379.3 661.9,1378.1 662.6,1376.9C663.2,1375.7 663.9,1374.6 664.5,1373.4C665.2,1372.2 665.9,1371.1 666.6,1369.9C667.3,1368.8 667.9,1367.6 668.6,1366.5C669.3,1365.3 670.0,1364.2 670.7,1363.0C671.4,1361.9 672.1,1360.7 672.7,1359.6C673.4,1358.4 674.1,1357.3 674.7,1356.1C675.4,1354.9 676.0,1353.7 676.6,1352.5C677.2,1351.4 677.8,1350.2 678.4,1348.9C678.9,1347.7 679.5,1346.5 680.0,1345.3C680.5,1344.0 681.0,1342.8 681.5,1341.6C682.0,1340.3 682.4,1339.0 682.9,1337.8C683.3,1336.5 683.7,1335.2 684.1,1333.9C684.6,1332.7 685.0,1331.4 685.5,1330.2C686.0,1328.9 686.5,1327.7 687.1,1326.5C687.7,1325.3 688.4,1324.2 689.1,1323.0C689.8,1321.9 690.6,1320.8 691.3,1319.7C692.0,1318.5 692.8,1317.4 693.5,1316.3C694.2,1315.1 694.9,1314.0 695.5,1312.8C696.2,1311.6 696.8,1310.4 697.4,1309.2C697.9,1308.0 698.5,1306.8 699.0,1305.5C699.4,1304.3 699.9,1303.0 700.3,1301.7C700.8,1300.5 701.2,1299.2 701.5,1297.9C701.9,1296.6 702.3,1295.3 702.6,1294.0C703.0,1292.7 703.4,1291.4 703.7,1290.2C704.1,1288.9 704.5,1287.6 704.9,1286.3C705.4,1285.1 705.9,1283.8 706.4,1282.6C706.9,1281.4 707.5,1280.2 708.1,1279.0C708.7,1277.8 709.3,1276.6 709.9,1275.4C710.6,1274.2 711.2,1273.0 711.9,1271.9C712.5,1270.7 713.1,1269.5 713.8,1268.3C714.4,1267.1 715.0,1265.9 715.6,1264.7C716.1,1263.5 716.7,1262.3 717.2,1261.0C717.7,1259.8 718.1,1258.5 718.5,1257.3C718.9,1256.0 719.2,1254.7 719.5,1253.4C719.9,1252.1 720.2,1250.8 720.5,1249.5C720.8,1248.1 721.0,1246.8 721.3,1245.5C721.6,1244.2 721.9,1242.9 722.3,1241.6C722.6,1240.3 722.9,1239.0 723.3,1237.7C723.7,1236.5 724.2,1235.2 724.7,1234.0C725.2,1232.7 725.7,1231.5 726.3,1230.3C726.8,1229.1 727.5,1227.9 728.1,1226.7C728.7,1225.5 729.3,1224.4 730.0,1223.2C730.6,1222.0 731.2,1220.8 731.8,1219.6C732.5,1218.4 733.1,1217.2 733.7,1216.0C734.3,1214.8 734.9,1213.6 735.5,1212.4C736.1,1211.2 736.7,1210.1 737.3,1208.9C737.9,1207.7 738.5,1206.5 739.1,1205.3C739.7,1204.1 740.3,1202.9 741.0,1201.7C741.6,1200.6 742.3,1199.4 742.9,1198.2C743.6,1197.1 744.2,1195.9 744.9,1194.7C745.5,1193.5 746.2,1192.4 746.8,1191.2C747.5,1190.0 748.1,1188.9 748.8,1187.7C749.4,1186.5 750.1,1185.3 750.7,1184.2C751.3,1183.0 752.0,1181.8 752.6,1180.6C753.2,1179.4 753.8,1178.2 754.4,1177.0C755.0,1175.8 755.5,1174.6 756.1,1173.4C756.6,1172.2 757.1,1170.9 757.6,1169.7C758.2,1168.5 758.7,1167.2 759.1,1166.0C759.6,1164.7 760.1,1163.5 760.6,1162.2C761.1,1161.0 761.5,1159.7 762.0,1158.5C762.5,1157.2 763.0,1156.0 763.5,1154.7C764.0,1153.5 764.5,1152.2 765.0,1151.0C765.6,1149.8 766.1,1148.5 766.6,1147.3C767.2,1146.1 767.7,1144.8 768.2,1143.6C768.7,1142.4 769.2,1141.1 769.7,1139.9C770.1,1138.6 770.6,1137.4 771.0,1136.1C771.4,1134.8 771.7,1133.5 772.0,1132.2C772.3,1130.9 772.5,1129.6 772.8,1128.3C773.0,1127.0 773.2,1125.6 773.4,1124.3C773.6,1123.0 773.9,1121.7 774.1,1120.3C774.3,1119.0 774.6,1117.7 774.9,1116.4C775.2,1115.1 775.5,1113.8 775.8,1112.5C776.2,1111.2 776.5,1109.9 776.9,1108.6C777.3,1107.3 777.7,1106.1 778.1,1104.8C778.5,1103.5 778.9,1102.2 779.4,1101.0C779.8,1099.7 780.2,1098.4 780.6,1097.2C781.1,1095.9 781.5,1094.6 781.9,1093.4C782.4,1092.1 782.8,1090.8 783.2,1089.6C783.7,1088.3 784.1,1087.0 784.5,1085.7C784.9,1084.5 785.3,1083.2 785.7,1081.9C786.1,1080.7 786.5,1079.4 786.9,1078.1C787.3,1076.8 787.7,1075.5 788.0,1074.2C788.4,1073.0 788.7,1071.7 789.1,1070.4C789.4,1069.1 789.7,1067.8 790.1,1066.5C790.4,1065.2 790.7,1063.9 791.0,1062.6C791.3,1061.3 791.6,1060.0 791.9,1058.7C792.2,1057.4 792.5,1056.1 792.8,1054.8C793.1,1053.5 793.3,1052.1 793.6,1050.8C793.9,1049.5 794.2,1048.2 794.4,1046.9C794.7,1045.6 795.0,1044.3 795.2,1043.0C795.5,1041.6 795.8,1040.3 796.0,1039.0C796.3,1037.7 796.5,1036.4 796.8,1035.1C797.0,1033.7 797.3,1032.4 797.6,1031.1C797.8,1029.8 798.1,1028.5 798.3,1027.2C798.6,1025.8 798.9,1024.5 799.1,1023.2C799.4,1021.9 799.7,1020.6 799.9,1019.3C800.2,1018.0 800.5,1016.7 800.8,1015.3C801.0,1014.0 801.3,1012.7 801.6,1011.4C801.9,1010.1 802.2,1008.8 802.5,1007.5C802.8,1006.2 803.1,1004.9 803.4,1003.6C803.7,1002.3 804.0,1001.0 804.4,999.7C804.7,998.4 805.0,997.1 805.4,995.8C805.7,994.5 806.1,993.3 806.5,992.0C806.8,990.7 807.2,989.4 807.6,988.1C808.0,986.8 808.4,985.6 808.8,984.3C809.2,983.0 809.6,981.8 810.1,980.5C810.5,979.2 810.9,978.0 811.4,976.7C811.8,975.5 812.3,974.2 812.8,972.9C813.2,971.7 813.7,970.4 814.2,969.2C814.7,967.9 815.2,966.7 815.7,965.5C816.2,964.2 816.7,963.0 817.3,961.7C817.8,960.5 818.3,959.3 818.9,958.0C819.4,956.8 819.9,955.6 820.5,954.4C821.1,953.1 821.6,951.9 822.2,950.7C822.8,949.5 823.3,948.2 823.9,947.0C824.4,945.8 824.9,944.6 825.4,943.3C825.9,942.1 826.4,940.8 826.8,939.6C827.2,938.3 827.6,937.1 828.0,935.8C828.4,934.5 828.7,933.2 829.0,931.9C829.3,930.6 829.6,929.3 829.9,928.0C830.2,926.7 830.4,925.4 830.7,924.1C830.9,922.8 831.2,921.5 831.4,920.2C831.7,918.8 831.9,917.5 832.1,916.2C832.4,914.9 832.6,913.5 832.8,912.2C833.1,910.9 833.3,909.5 833.6,908.2C833.9,906.9 834.2,905.5 834.5,904.2C834.8,902.9 835.2,901.6 835.6,900.3C835.9,899.0 836.4,897.7 836.9,896.5C837.4,895.3 838.0,894.1 838.6,893.0C839.2,891.8 840.0,890.7 840.8,889.7C841.6,888.6 842.5,887.7 843.5,886.7C844.5,885.8 845.6,884.9 846.6,884.0C847.7,883.1 848.7,882.2 849.5,881.1C850.3,880.1 850.9,878.9 851.7,878.4C852.6,877.8 853.7,878.0 854.8,878.5C856.0,879.0 857.3,879.9 858.5,880.8C859.7,881.7 860.8,882.6 861.9,883.4C863.0,884.3 864.0,885.2 865.0,886.2C865.9,887.1 866.8,888.1 867.5,889.1C868.3,890.2 869.0,891.3 869.7,892.5C870.3,893.6 871.0,894.8 871.6,896.0C872.2,897.2 872.8,898.4 873.4,899.6C874.1,900.8 874.7,901.9 875.4,903.1C876.0,904.3 876.6,905.5 877.2,906.7C877.8,907.9 878.4,909.1 879.0,910.3C879.5,911.6 880.0,912.8 880.5,914.1C880.9,915.3 881.3,916.6 881.7,917.9C882.0,919.2 882.3,920.5 882.5,921.8C882.8,923.1 883.0,924.4 883.3,925.8C883.5,927.1 883.9,928.4 884.3,929.6C884.7,930.9 885.2,932.1 885.8,933.4C886.4,934.6 887.0,935.8 887.6,937.0C888.2,938.2 888.8,939.4 889.3,940.6C889.8,941.9 890.2,943.1 890.4,944.5C890.6,945.8 890.7,947.1 890.6,948.5C890.6,949.8 890.3,951.2 889.9,952.6C889.6,953.9 889.3,955.2 889.4,956.4C889.5,957.7 890.1,958.8 890.8,959.9C891.6,961.0 892.6,962.0 893.5,963.1C894.5,964.1 895.5,965.2 896.3,966.3C897.2,967.3 898.0,968.4 898.7,969.6C899.4,970.7 900.0,971.9 900.5,973.1C900.9,974.3 901.2,975.5 901.5,976.8C901.7,978.1 901.9,979.4 902.0,980.8C902.1,982.1 902.1,983.5 902.1,984.8C902.2,986.2 902.2,987.6 902.2,988.9C902.2,990.3 902.3,991.7 902.4,993.0C902.5,994.4 902.7,995.7 902.9,997.0C903.2,998.3 903.5,999.6 903.8,1000.9C904.1,1002.2 904.5,1003.5 904.9,1004.8C905.3,1006.0 905.7,1007.3 906.2,1008.6C906.6,1009.8 907.0,1011.1 907.4,1012.4C907.8,1013.7 908.1,1014.9 908.5,1016.2C908.8,1017.5 909.1,1018.9 909.3,1020.2C909.5,1021.5 909.7,1022.8 909.8,1024.2C910.0,1025.5 910.1,1026.9 910.2,1028.2C910.3,1029.6 910.3,1030.9 910.4,1032.2C910.5,1033.6 910.6,1034.9 910.9,1036.2C911.1,1037.5 911.4,1038.8 911.8,1040.1C912.2,1041.4 912.7,1042.6 913.1,1043.9C913.6,1045.2 914.0,1046.4 914.4,1047.7C914.8,1049.0 915.2,1050.3 915.5,1051.6C915.8,1052.9 916.1,1054.2 916.4,1055.5C916.7,1056.8 916.9,1058.1 917.2,1059.5C917.4,1060.8 917.7,1062.1 917.9,1063.4C918.2,1064.7 918.5,1066.0 918.8,1067.3C919.1,1068.6 919.5,1069.9 919.9,1071.2C920.3,1072.4 920.7,1073.7 921.2,1075.0C921.6,1076.2 922.1,1077.5 922.6,1078.7C923.0,1080.0 923.5,1081.2 924.0,1082.5C924.5,1083.7 924.9,1085.0 925.4,1086.2C925.8,1087.5 926.2,1088.8 926.6,1090.1C927.0,1091.3 927.4,1092.6 927.8,1093.9C928.1,1095.2 928.5,1096.5 928.8,1097.8C929.1,1099.1 929.5,1100.4 929.8,1101.7C930.1,1103.0 930.4,1104.3 930.7,1105.6C931.0,1106.9 931.3,1108.2 931.6,1109.5C931.9,1110.8 932.2,1112.1 932.5,1113.4C932.8,1114.7 933.1,1116.0 933.4,1117.3C933.7,1118.6 934.0,1119.9 934.3,1121.2C934.7,1122.5 935.0,1123.8 935.4,1125.1C935.7,1126.4 936.1,1127.7 936.5,1129.0C936.8,1130.3 937.2,1131.5 937.6,1132.8C938.0,1134.1 938.3,1135.4 938.7,1136.7C939.0,1138.0 939.4,1139.3 939.7,1140.6C940.0,1141.9 940.3,1143.2 940.6,1144.5C940.9,1145.8 941.2,1147.1 941.5,1148.4C941.8,1149.7 942.1,1151.0 942.4,1152.3C942.6,1153.6 942.9,1154.9 943.2,1156.2C943.5,1157.5 943.8,1158.8 944.0,1160.1C944.3,1161.4 944.6,1162.8 944.9,1164.1C945.2,1165.4 945.5,1166.7 945.8,1168.0C946.1,1169.3 946.5,1170.6 946.8,1171.9C947.2,1173.2 947.5,1174.5 947.9,1175.8C948.2,1177.1 948.6,1178.3 948.9,1179.6C949.3,1180.9 949.6,1182.2 950.0,1183.5C950.3,1184.8 950.6,1186.1 950.9,1187.4C951.2,1188.7 951.5,1190.0 951.7,1191.3C952.0,1192.6 952.2,1193.9 952.3,1195.3C952.5,1196.6 952.6,1197.9 952.7,1199.2C952.7,1200.6 952.8,1201.9 952.8,1203.2C952.7,1204.6 952.7,1205.9 952.6,1207.3C952.6,1208.6 952.5,1209.9 952.4,1211.3C952.3,1212.6 952.3,1214.0 952.2,1215.3C952.1,1216.7 952.1,1218.0 952.0,1219.4C952.0,1220.7 952.0,1222.1 952.0,1223.4C952.1,1224.8 952.2,1226.1 952.3,1227.4C952.5,1228.7 952.7,1230.1 952.9,1231.4C953.1,1232.7 953.4,1234.0 953.6,1235.3C953.9,1236.7 954.1,1238.0 954.4,1239.3C954.6,1240.6 954.8,1241.9 955.0,1243.3C955.2,1244.6 955.3,1245.9 955.4,1247.3C955.6,1248.6 955.7,1249.9 955.8,1251.3C956.0,1252.6 956.1,1253.9 956.3,1255.2C956.5,1256.6 956.7,1257.9 957.0,1259.2C957.3,1260.5 957.6,1261.8 957.9,1263.1C958.3,1264.4 958.7,1265.7 959.1,1267.0C959.6,1268.2 960.1,1269.5 960.7,1270.7C961.2,1271.9 961.8,1273.2 962.3,1274.4C962.9,1275.6 963.4,1276.8 963.9,1278.1C964.3,1279.3 964.7,1280.6 965.0,1281.9C965.3,1283.2 965.6,1284.5 965.7,1285.8C965.9,1287.1 966.1,1288.5 966.2,1289.8C966.4,1291.2 966.5,1292.5 966.6,1293.9C966.8,1295.2 967.0,1296.5 967.2,1297.8C967.4,1299.2 967.6,1300.5 967.9,1301.8C968.1,1303.1 968.4,1304.4 968.7,1305.7C968.9,1307.1 969.2,1308.4 969.5,1309.7C969.9,1311.0 970.2,1312.3 970.5,1313.6C970.8,1314.9 971.2,1316.1 971.5,1317.4C971.8,1318.7 972.2,1320.0 972.5,1321.3C972.8,1322.6 973.2,1323.9 973.5,1325.2C973.8,1326.5 974.1,1327.8 974.4,1329.1C974.7,1330.4 975.0,1331.7 975.3,1333.0C975.6,1334.3 975.9,1335.7 976.1,1337.0C976.4,1338.3 976.7,1339.6 977.0,1340.9C977.2,1342.2 977.5,1343.5 977.8,1344.8C978.0,1346.2 978.3,1347.5 978.6,1348.8C978.8,1350.1 979.1,1351.4 979.4,1352.7C979.7,1354.0 980.0,1355.3 980.3,1356.6C980.6,1357.9 980.9,1359.2 981.2,1360.5C981.5,1361.8 981.8,1363.1 982.2,1364.4C982.5,1365.7 982.9,1367.0 983.2,1368.3C983.5,1369.6 983.9,1370.9 984.2,1372.2C984.5,1373.5 984.9,1374.8 985.2,1376.1C985.5,1377.4 985.8,1378.7 986.1,1380.0C986.4,1381.3 986.6,1382.6 986.9,1383.9C987.2,1385.2 987.4,1386.6 987.6,1387.9C987.8,1389.2 988.0,1390.6 988.2,1391.9C988.3,1393.2 988.5,1394.6 988.7,1395.9C988.9,1397.2 989.2,1398.5 989.5,1399.8C989.8,1401.1 990.3,1402.3 990.7,1403.6C991.2,1404.8 991.8,1406.0 992.3,1407.3C992.9,1408.5 993.5,1409.7 994.1,1410.9C994.7,1412.1 995.2,1413.3 995.8,1414.6C996.3,1415.8 996.8,1417.0 997.3,1418.3C997.8,1419.5 998.3,1420.8 998.7,1422.0C999.2,1423.3 999.6,1424.6 1000.0,1425.8C1000.4,1427.1 1000.8,1428.4 1001.2,1429.7C1001.5,1431.0 1001.9,1432.3 1002.2,1433.6C1002.5,1434.9 1002.8,1436.2 1003.1,1437.5C1003.4,1438.8 1003.7,1440.1 1004.0,1441.4C1004.3,1442.7 1004.7,1444.0 1005.1,1445.3C1005.4,1446.6 1005.9,1447.8 1006.3,1449.1C1006.8,1450.3 1007.4,1451.5 1007.9,1452.7C1008.5,1453.9 1009.2,1455.1 1009.9,1456.2C1010.6,1457.4 1011.3,1458.6 1012.0,1459.7C1012.7,1460.9 1013.4,1462.0 1014.1,1463.2C1014.8,1464.3 1015.5,1465.5 1016.2,1466.7C1016.8,1467.8 1017.4,1469.0 1018.0,1470.2C1018.5,1471.5 1019.0,1472.7 1019.4,1473.9C1019.8,1475.2 1020.1,1476.5 1020.3,1477.8C1020.5,1479.1 1020.7,1480.5 1020.9,1481.8C1021.0,1483.2 1021.2,1484.5 1021.4,1485.9C1021.6,1487.2 1021.8,1488.5 1022.1,1489.8C1022.4,1491.1 1022.8,1492.4 1023.2,1493.7C1023.6,1495.0 1024.1,1496.2 1024.6,1497.4C1025.1,1498.7 1025.6,1499.9 1026.2,1501.1C1026.7,1502.4 1027.3,1503.6 1027.9,1504.8C1028.4,1506.0 1029.0,1507.3 1029.5,1508.5C1030.1,1509.7 1030.6,1510.9 1031.1,1512.2C1031.7,1513.4 1032.2,1514.7 1032.6,1515.9C1033.0,1517.2 1033.4,1518.4 1033.8,1519.7C1034.1,1521.0 1034.4,1522.3 1034.7,1523.6C1034.9,1525.0 1035.0,1526.3 1035.1,1527.6C1035.2,1529.0 1035.2,1530.4 1035.1,1531.8C1035.1,1533.2 1035.0,1534.5 1035.1,1535.9C1035.1,1537.2 1035.2,1538.6 1035.5,1539.8C1035.9,1541.0 1036.4,1542.2 1037.1,1543.3C1037.8,1544.4 1038.6,1545.5 1039.5,1546.5C1040.4,1547.6 1041.3,1548.6 1042.1,1549.7C1042.9,1550.8 1043.7,1552.0 1044.3,1553.2C1045.0,1554.4 1045.5,1555.6 1045.9,1556.9C1046.3,1558.1 1046.6,1559.4 1046.8,1560.8C1047.0,1562.1 1047.1,1563.4 1047.2,1564.8C1047.3,1566.1 1047.4,1567.4 1047.6,1568.8C1047.8,1570.1 1048.0,1571.4 1048.4,1572.7C1048.7,1574.0 1049.2,1575.2 1049.7,1576.5C1050.2,1577.7 1050.8,1578.9 1051.4,1580.1C1052.0,1581.4 1052.6,1582.6 1053.3,1583.7C1053.9,1584.9 1054.6,1586.1 1055.3,1587.2C1056.0,1588.4 1056.7,1589.5 1057.5,1590.6C1058.2,1591.7 1059.0,1592.8 1059.8,1593.8C1060.7,1594.8 1061.5,1595.8 1062.5,1596.8C1063.4,1597.7 1064.4,1598.6 1065.4,1599.4C1066.5,1600.3 1067.6,1601.1 1068.8,1601.8"/>
</g>
<g text-anchor="middle">
<text x="645.5" y="35.5">(а)</text>
<text x="646" y="864.7">(б)</text>
<text x="10.3" y="733">3</text>
<text x="328.5" y="733">4</text>
<text x="645.5" y="733">5</text>
<text x="963.3" y="733">6</text>
<text x="1280" y="733" >7</text>
<text x="11.3" y="1644.3">2</text>
<text x="222.5" y="1644.3">3</text>
<text x="433.5" y="1644.3">4</text>
<text x="645.5" y="1644.3">5</text>
<text x="858" y="1644.3">6</text>
<text x="1069" y="1644.3">7</text>
<text x="1281" y="1644.3">8</text>
<text class="i" x="643.7" y="96.8">1</text>
<text class="i" x="1013" y="264">2</text>
<text class="i" x="664" y="269">3</text>
<text class="i" x="545.8" y="1170.2">1</text>
<text class="i" x="903" y="896">2</text>
<text class="i" x="451" y="1474">3</text>
</g>
<text transform="translate(1214.3,783) scale(1.035,1)">lg<tspan class="i">M</tspan></text>
<text transform="translate(1215.5,1694.7) scale(1.035,1)">lg<tspan class="i">M</tspan></text>
</svg>
</body></html>
